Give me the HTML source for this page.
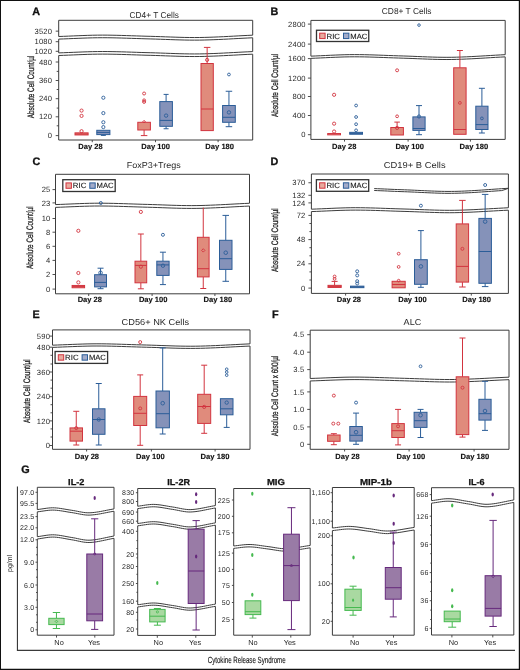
<!DOCTYPE html>
<html><head><meta charset="utf-8"><title>Figure</title>
<style>html,body{margin:0;padding:0;background:#fff;}svg{display:block;will-change:transform;}</style>
</head><body>
<svg width="520" height="670" viewBox="0 0 520 670" text-rendering="geometricPrecision" font-family='"Liberation Sans", sans-serif'>
<rect x="0" y="0" width="520" height="670" fill="#fff"/>
<path d="M58.7 20.3 L252.7 20.3 L252.7 35.18 L247.85 35.4 L243 35.64 L238.15 35.9 L233.3 36.16 L228.45 36.42 L223.6 36.67 L218.75 36.9 L213.9 37.1 L209.05 37.28 L204.2 37.42 L199.35 37.51 L194.5 37.54 L189.65 37.51 L184.8 37.44 L179.95 37.32 L175.1 37.17 L170.25 37 L165.4 36.83 L160.55 36.65 L155.7 36.49 L150.85 36.34 L146 36.22 L141.15 36.07 L136.3 35.91 L131.45 35.75 L126.6 35.59 L121.75 35.44 L116.9 35.31 L112.05 35.21 L107.2 35.14 L102.35 35.12 L97.5 35.15 L92.65 35.23 L87.8 35.37 L82.95 35.54 L78.1 35.73 L73.25 35.93 L68.4 36.13 L63.55 36.33 L58.7 36.5 Z" fill="none" stroke="#3c3c3c" stroke-width="1.0" stroke-linejoin="round"/>
<path d="M58.7 39.1 L63.55 38.93 L68.4 38.73 L73.25 38.53 L78.1 38.33 L82.95 38.14 L87.8 37.97 L92.65 37.83 L97.5 37.75 L102.35 37.72 L107.2 37.74 L112.05 37.81 L116.9 37.91 L121.75 38.04 L126.6 38.19 L131.45 38.35 L136.3 38.51 L141.15 38.67 L146 38.82 L150.85 38.94 L155.7 39.09 L160.55 39.25 L165.4 39.43 L170.25 39.6 L175.1 39.77 L179.95 39.92 L184.8 40.04 L189.65 40.11 L194.5 40.14 L199.35 40.11 L204.2 40.02 L209.05 39.88 L213.9 39.7 L218.75 39.5 L223.6 39.27 L228.45 39.02 L233.3 38.76 L238.15 38.5 L243 38.24 L247.85 38 L252.7 37.78 L252.7 51.58 L247.85 51.8 L243 52.04 L238.15 52.3 L233.3 52.56 L228.45 52.82 L223.6 53.07 L218.75 53.3 L213.9 53.5 L209.05 53.68 L204.2 53.82 L199.35 53.91 L194.5 53.94 L189.65 53.91 L184.8 53.84 L179.95 53.72 L175.1 53.57 L170.25 53.4 L165.4 53.23 L160.55 53.05 L155.7 52.89 L150.85 52.74 L146 52.62 L141.15 52.47 L136.3 52.31 L131.45 52.15 L126.6 51.99 L121.75 51.84 L116.9 51.71 L112.05 51.61 L107.2 51.54 L102.35 51.52 L97.5 51.55 L92.65 51.63 L87.8 51.77 L82.95 51.94 L78.1 52.13 L73.25 52.33 L68.4 52.53 L63.55 52.73 L58.7 52.9 Z" fill="none" stroke="#3c3c3c" stroke-width="1.0" stroke-linejoin="round"/>
<path d="M58.7 55.5 L63.55 55.33 L68.4 55.13 L73.25 54.93 L78.1 54.73 L82.95 54.54 L87.8 54.37 L92.65 54.23 L97.5 54.15 L102.35 54.12 L107.2 54.14 L112.05 54.21 L116.9 54.31 L121.75 54.44 L126.6 54.59 L131.45 54.75 L136.3 54.91 L141.15 55.07 L146 55.22 L150.85 55.34 L155.7 55.49 L160.55 55.65 L165.4 55.83 L170.25 56 L175.1 56.17 L179.95 56.32 L184.8 56.44 L189.65 56.51 L194.5 56.54 L199.35 56.51 L204.2 56.42 L209.05 56.28 L213.9 56.1 L218.75 55.9 L223.6 55.67 L228.45 55.42 L233.3 55.16 L238.15 54.9 L243 54.64 L247.85 54.4 L252.7 54.18 L252.7 140 L58.7 140 Z" fill="none" stroke="#3c3c3c" stroke-width="1.0" stroke-linejoin="round"/>
<path d="M310.9 20.4 L505.2 20.4 L505.2 54.67 L500.34 54.92 L495.49 55.19 L490.63 55.48 L485.77 55.77 L480.91 56.06 L476.06 56.34 L471.2 56.6 L466.34 56.83 L461.48 57.03 L456.62 57.18 L451.77 57.29 L446.91 57.32 L442.05 57.29 L437.19 57.21 L432.34 57.07 L427.48 56.91 L422.62 56.72 L417.76 56.52 L412.91 56.32 L408.05 56.14 L403.19 55.98 L398.33 55.83 L393.48 55.67 L388.62 55.49 L383.76 55.31 L378.9 55.13 L374.05 54.96 L369.19 54.82 L364.33 54.7 L359.47 54.63 L354.62 54.6 L349.76 54.63 L344.9 54.73 L340.04 54.88 L335.19 55.07 L330.33 55.28 L325.47 55.51 L320.61 55.74 L315.76 55.96 L310.9 56.15 Z" fill="none" stroke="#3c3c3c" stroke-width="1.0" stroke-linejoin="round"/>
<path d="M310.9 58.35 L315.76 58.16 L320.61 57.94 L325.47 57.71 L330.33 57.48 L335.19 57.27 L340.04 57.08 L344.9 56.93 L349.76 56.83 L354.62 56.8 L359.47 56.83 L364.33 56.9 L369.19 57.02 L374.05 57.16 L378.9 57.33 L383.76 57.51 L388.62 57.69 L393.48 57.87 L398.33 58.03 L403.19 58.18 L408.05 58.34 L412.91 58.52 L417.76 58.72 L422.62 58.92 L427.48 59.11 L432.34 59.27 L437.19 59.41 L442.05 59.49 L446.91 59.52 L451.77 59.49 L456.62 59.38 L461.48 59.23 L466.34 59.03 L471.2 58.8 L476.06 58.54 L480.91 58.26 L485.77 57.97 L490.63 57.68 L495.49 57.39 L500.34 57.12 L505.2 56.87 L505.2 139.4 L310.9 139.4 Z" fill="none" stroke="#3c3c3c" stroke-width="1.0" stroke-linejoin="round"/>
<path d="M55.5 174.3 L249.5 174.3 L249.5 203.26 L244.65 203.48 L239.8 203.72 L234.95 203.98 L230.1 204.24 L225.25 204.5 L220.4 204.75 L215.55 204.98 L210.7 205.18 L205.85 205.36 L201 205.5 L196.15 205.59 L191.3 205.62 L186.45 205.59 L181.6 205.52 L176.75 205.4 L171.9 205.25 L167.05 205.08 L162.2 204.91 L157.35 204.73 L152.5 204.57 L147.65 204.42 L142.8 204.3 L137.95 204.15 L133.1 203.99 L128.25 203.83 L123.4 203.67 L118.55 203.52 L113.7 203.39 L108.85 203.29 L104 203.22 L99.15 203.2 L94.3 203.23 L89.45 203.31 L84.6 203.45 L79.75 203.62 L74.9 203.81 L70.05 204.01 L65.2 204.21 L60.35 204.41 L55.5 204.58 Z" fill="none" stroke="#3c3c3c" stroke-width="1.0" stroke-linejoin="round"/>
<path d="M55.5 207.38 L60.35 207.21 L65.2 207.01 L70.05 206.81 L74.9 206.61 L79.75 206.42 L84.6 206.25 L89.45 206.11 L94.3 206.03 L99.15 206 L104 206.02 L108.85 206.09 L113.7 206.19 L118.55 206.32 L123.4 206.47 L128.25 206.63 L133.1 206.79 L137.95 206.95 L142.8 207.1 L147.65 207.22 L152.5 207.37 L157.35 207.53 L162.2 207.71 L167.05 207.88 L171.9 208.05 L176.75 208.2 L181.6 208.32 L186.45 208.39 L191.3 208.42 L196.15 208.39 L201 208.3 L205.85 208.16 L210.7 207.98 L215.55 207.78 L220.4 207.55 L225.25 207.3 L230.1 207.04 L234.95 206.78 L239.8 206.52 L244.65 206.28 L249.5 206.06 L249.5 293.8 L55.5 293.8 Z" fill="none" stroke="#3c3c3c" stroke-width="1.0" stroke-linejoin="round"/>
<path d="M311.4 174 L508.4 174 L508.4 207.76 L503.47 208.01 L498.55 208.27 L493.62 208.54 L488.7 208.82 L483.77 209.1 L478.85 209.37 L473.92 209.63 L469 209.85 L464.07 210.04 L459.15 210.19 L454.22 210.29 L449.3 210.32 L444.38 210.29 L439.45 210.21 L434.52 210.08 L429.6 209.92 L424.67 209.74 L419.75 209.55 L414.82 209.36 L409.9 209.18 L404.97 209.03 L400.05 208.89 L395.12 208.73 L390.2 208.56 L385.27 208.38 L380.35 208.21 L375.42 208.05 L370.5 207.91 L365.57 207.8 L360.65 207.73 L355.72 207.7 L350.8 207.73 L345.88 207.82 L340.95 207.97 L336.02 208.15 L331.1 208.36 L326.17 208.58 L321.25 208.8 L316.32 209.01 L311.4 209.19 Z" fill="none" stroke="#3c3c3c" stroke-width="1.0" stroke-linejoin="round"/>
<path d="M311.4 211.59 L316.32 211.41 L321.25 211.2 L326.17 210.98 L331.1 210.76 L336.02 210.55 L340.95 210.37 L345.88 210.22 L350.8 210.13 L355.72 210.1 L360.65 210.13 L365.57 210.2 L370.5 210.31 L375.42 210.45 L380.35 210.61 L385.27 210.78 L390.2 210.96 L395.12 211.13 L400.05 211.29 L404.97 211.43 L409.9 211.58 L414.82 211.76 L419.75 211.95 L424.67 212.14 L429.6 212.32 L434.52 212.48 L439.45 212.61 L444.38 212.69 L449.3 212.72 L454.22 212.69 L459.15 212.59 L464.07 212.44 L469 212.25 L473.92 212.03 L478.85 211.77 L483.77 211.5 L488.7 211.22 L493.62 210.94 L498.55 210.67 L503.47 210.41 L508.4 210.16 L508.4 293.4 L311.4 293.4 Z" fill="none" stroke="#3c3c3c" stroke-width="1.0" stroke-linejoin="round"/>
<polyline points="374.2,188.58 377.56,188.71 380.91,188.85 384.26,188.99 387.62,189.14 390.97,189.29 394.33,189.43 397.69,189.57 401.04,189.7 404.39,189.81 407.75,189.93 411.1,190.07 414.46,190.22 417.81,190.38 421.17,190.54 424.52,190.7 427.88,190.86 431.23,191 434.59,191.13 437.94,191.25 441.3,191.33 444.65,191.4 448.01,191.43 451.37,191.42 454.72,191.38 458.07,191.3 461.43,191.19 464.78,191.05 468.14,190.89 471.5,190.71 474.85,190.51 478.2,190.3 481.56,190.08 484.91,189.85 488.27,189.61 491.62,189.38 494.98,189.14 498.33,188.91 501.69,188.69 505.04,188.48 508.4,188.28" fill="none" stroke="#3c3c3c" stroke-width="1"/>
<polyline points="374.2,190.48 377.56,190.61 380.91,190.75 384.26,190.89 387.62,191.04 390.97,191.19 394.33,191.33 397.69,191.47 401.04,191.6 404.39,191.71 407.75,191.83 411.1,191.97 414.46,192.12 417.81,192.28 421.17,192.44 424.52,192.6 427.88,192.76 431.23,192.9 434.59,193.03 437.94,193.15 441.3,193.23 444.65,193.3 448.01,193.33 451.37,193.32 454.72,193.28 458.07,193.2 461.43,193.09 464.78,192.95 468.14,192.79 471.5,192.61 474.85,192.41 478.2,192.2 481.56,191.98 484.91,191.75 488.27,191.51 491.62,191.28 494.98,191.04 498.33,190.81 501.69,190.59 505.04,189.54 508.4,188.28" fill="none" stroke="#3c3c3c" stroke-width="1"/>
<path d="M52.5 329.9 L250 329.9 L250 343.86 L245.06 344.08 L240.12 344.32 L235.19 344.58 L230.25 344.84 L225.31 345.1 L220.38 345.35 L215.44 345.58 L210.5 345.78 L205.56 345.96 L200.62 346.1 L195.69 346.19 L190.75 346.22 L185.81 346.19 L180.88 346.12 L175.94 346 L171 345.85 L166.06 345.68 L161.12 345.51 L156.19 345.33 L151.25 345.17 L146.31 345.02 L141.38 344.9 L136.44 344.75 L131.5 344.59 L126.56 344.43 L121.62 344.27 L116.69 344.12 L111.75 343.99 L106.81 343.89 L101.88 343.82 L96.94 343.8 L92 343.83 L87.06 343.91 L82.12 344.05 L77.19 344.22 L72.25 344.41 L67.31 344.61 L62.38 344.81 L57.44 345.01 L52.5 345.18 Z" fill="none" stroke="#3c3c3c" stroke-width="1.0" stroke-linejoin="round"/>
<path d="M52.5 347.38 L57.44 347.21 L62.38 347.01 L67.31 346.81 L72.25 346.61 L77.19 346.42 L82.12 346.25 L87.06 346.11 L92 346.03 L96.94 346 L101.88 346.02 L106.81 346.09 L111.75 346.19 L116.69 346.32 L121.62 346.47 L126.56 346.63 L131.5 346.79 L136.44 346.95 L141.38 347.1 L146.31 347.22 L151.25 347.37 L156.19 347.53 L161.12 347.71 L166.06 347.88 L171 348.05 L175.94 348.2 L180.88 348.32 L185.81 348.39 L190.75 348.42 L195.69 348.39 L200.62 348.3 L205.56 348.16 L210.5 347.98 L215.44 347.78 L220.38 347.55 L225.31 347.3 L230.25 347.04 L235.19 346.78 L240.12 346.52 L245.06 346.28 L250 346.06 L250 449.3 L52.5 449.3 Z" fill="none" stroke="#3c3c3c" stroke-width="1.0" stroke-linejoin="round"/>
<path d="M310.2 330.2 L509 330.2 L509 377.16 L504.03 377.38 L499.06 377.62 L494.09 377.88 L489.12 378.14 L484.15 378.4 L479.18 378.65 L474.21 378.88 L469.24 379.08 L464.27 379.26 L459.3 379.4 L454.33 379.49 L449.36 379.52 L444.39 379.49 L439.42 379.42 L434.45 379.3 L429.48 379.15 L424.51 378.98 L419.54 378.81 L414.57 378.63 L409.6 378.47 L404.63 378.32 L399.66 378.2 L394.69 378.05 L389.72 377.89 L384.75 377.73 L379.78 377.57 L374.81 377.42 L369.84 377.29 L364.87 377.19 L359.9 377.12 L354.93 377.1 L349.96 377.13 L344.99 377.21 L340.02 377.35 L335.05 377.52 L330.08 377.71 L325.11 377.91 L320.14 378.11 L315.17 378.31 L310.2 378.48 Z" fill="none" stroke="#3c3c3c" stroke-width="1.0" stroke-linejoin="round"/>
<path d="M310.2 380.98 L315.17 380.81 L320.14 380.61 L325.11 380.41 L330.08 380.21 L335.05 380.02 L340.02 379.85 L344.99 379.71 L349.96 379.63 L354.93 379.6 L359.9 379.62 L364.87 379.69 L369.84 379.79 L374.81 379.92 L379.78 380.07 L384.75 380.23 L389.72 380.39 L394.69 380.55 L399.66 380.7 L404.63 380.82 L409.6 380.97 L414.57 381.13 L419.54 381.31 L424.51 381.48 L429.48 381.65 L434.45 381.8 L439.42 381.92 L444.39 381.99 L449.36 382.02 L454.33 381.99 L459.3 381.9 L464.27 381.76 L469.24 381.58 L474.21 381.38 L479.18 381.15 L484.15 380.9 L489.12 380.64 L494.09 380.38 L499.06 380.12 L504.03 379.88 L509 379.66 L509 449.3 L310.2 449.3 Z" fill="none" stroke="#3c3c3c" stroke-width="1.0" stroke-linejoin="round"/>
<path d="M37.3 487.3 L114 487.3 L114 508.93 L112.08 509.25 L110.16 509.59 L108.25 509.96 L106.33 510.34 L104.41 510.72 L102.5 511.1 L100.58 511.46 L98.66 511.8 L96.74 512.1 L94.82 512.36 L92.91 512.57 L90.99 512.73 L89.07 512.81 L87.16 512.78 L85.24 512.63 L83.32 512.38 L81.4 512.07 L79.48 511.71 L77.57 511.33 L75.65 510.95 L73.73 510.6 L71.81 510.3 L69.9 510.01 L67.98 509.7 L66.06 509.37 L64.14 509.04 L62.23 508.72 L60.31 508.43 L58.39 508.17 L56.47 507.97 L54.56 507.84 L52.64 507.79 L50.72 507.85 L48.8 507.99 L46.89 508.21 L44.97 508.47 L43.05 508.75 L41.13 509.04 L39.22 509.32 L37.3 509.55 Z" fill="none" stroke="#3c3c3c" stroke-width="1.0" stroke-linejoin="round"/>
<path d="M37.3 511.85 L39.22 511.62 L41.13 511.34 L43.05 511.05 L44.97 510.77 L46.89 510.51 L48.8 510.29 L50.72 510.15 L52.64 510.09 L54.56 510.14 L56.47 510.27 L58.39 510.47 L60.31 510.73 L62.23 511.02 L64.14 511.34 L66.06 511.67 L67.98 512 L69.9 512.31 L71.81 512.6 L73.73 512.9 L75.65 513.25 L77.57 513.63 L79.48 514.01 L81.4 514.37 L83.32 514.68 L85.24 514.93 L87.16 515.08 L89.07 515.11 L90.99 515.03 L92.91 514.87 L94.82 514.66 L96.74 514.4 L98.66 514.1 L100.58 513.76 L102.5 513.4 L104.41 513.02 L106.33 512.64 L108.25 512.26 L110.16 511.89 L112.08 511.55 L114 511.23 L114 536.01 L112.08 536.36 L110.16 536.74 L108.25 537.14 L106.33 537.55 L104.41 537.96 L102.5 538.36 L100.58 538.75 L98.66 539.12 L96.74 539.45 L94.82 539.73 L92.91 539.96 L90.99 540.12 L89.07 540.21 L87.16 540.17 L85.24 540.01 L83.32 539.75 L81.4 539.41 L79.48 539.02 L77.57 538.61 L75.65 538.2 L73.73 537.82 L71.81 537.5 L69.9 537.19 L67.98 536.85 L66.06 536.5 L64.14 536.14 L62.23 535.79 L60.31 535.48 L58.39 535.2 L56.47 534.99 L54.56 534.84 L52.64 534.79 L50.72 534.85 L48.8 535.01 L46.89 535.24 L44.97 535.52 L43.05 535.83 L41.13 536.14 L39.22 536.44 L37.3 536.69 Z" fill="none" stroke="#3c3c3c" stroke-width="1.0" stroke-linejoin="round"/>
<path d="M37.3 538.99 L39.22 538.74 L41.13 538.44 L43.05 538.13 L44.97 537.82 L46.89 537.54 L48.8 537.31 L50.72 537.15 L52.64 537.09 L54.56 537.14 L56.47 537.29 L58.39 537.5 L60.31 537.78 L62.23 538.09 L64.14 538.44 L66.06 538.8 L67.98 539.15 L69.9 539.49 L71.81 539.8 L73.73 540.12 L75.65 540.5 L77.57 540.91 L79.48 541.32 L81.4 541.71 L83.32 542.05 L85.24 542.31 L87.16 542.47 L89.07 542.51 L90.99 542.42 L92.91 542.26 L94.82 542.03 L96.74 541.75 L98.66 541.42 L100.58 541.05 L102.5 540.66 L104.41 540.26 L106.33 539.85 L108.25 539.44 L110.16 539.04 L112.08 538.66 L114 538.31 L114 635.2 L37.3 635.2 Z" fill="none" stroke="#3c3c3c" stroke-width="1.0" stroke-linejoin="round"/>
<path d="M137.7 488.5 L215.4 488.5 L215.4 505.57 L213.46 505.9 L211.52 506.27 L209.57 506.65 L207.63 507.04 L205.69 507.44 L203.75 507.83 L201.8 508.21 L199.86 508.56 L197.92 508.87 L195.97 509.15 L194.03 509.37 L192.09 509.52 L190.15 509.61 L188.2 509.58 L186.26 509.42 L184.32 509.16 L182.38 508.84 L180.44 508.46 L178.49 508.07 L176.55 507.68 L174.61 507.31 L172.66 507 L170.72 506.7 L168.78 506.38 L166.84 506.03 L164.89 505.69 L162.95 505.36 L161.01 505.05 L159.07 504.79 L157.12 504.58 L155.18 504.44 L153.24 504.39 L151.3 504.45 L149.35 504.6 L147.41 504.82 L145.47 505.09 L143.53 505.39 L141.58 505.69 L139.64 505.98 L137.7 506.22 Z" fill="none" stroke="#3c3c3c" stroke-width="1.0" stroke-linejoin="round"/>
<path d="M137.7 508.62 L139.64 508.38 L141.58 508.09 L143.53 507.79 L145.47 507.49 L147.41 507.22 L149.35 507 L151.3 506.85 L153.24 506.79 L155.18 506.84 L157.12 506.98 L159.07 507.19 L161.01 507.45 L162.95 507.76 L164.89 508.09 L166.84 508.43 L168.78 508.78 L170.72 509.1 L172.66 509.4 L174.61 509.71 L176.55 510.08 L178.49 510.47 L180.44 510.86 L182.38 511.24 L184.32 511.56 L186.26 511.82 L188.2 511.98 L190.15 512.01 L192.09 511.92 L194.03 511.77 L195.97 511.55 L197.92 511.27 L199.86 510.96 L201.8 510.61 L203.75 510.23 L205.69 509.84 L207.63 509.44 L209.57 509.05 L211.52 508.67 L213.46 508.3 L215.4 507.97 L215.4 522.87 L213.46 523.2 L211.52 523.57 L209.57 523.95 L207.63 524.34 L205.69 524.74 L203.75 525.13 L201.8 525.51 L199.86 525.86 L197.92 526.17 L195.97 526.45 L194.03 526.67 L192.09 526.82 L190.15 526.91 L188.2 526.88 L186.26 526.72 L184.32 526.46 L182.38 526.14 L180.44 525.76 L178.49 525.37 L176.55 524.98 L174.61 524.61 L172.66 524.3 L170.72 524 L168.78 523.68 L166.84 523.33 L164.89 522.99 L162.95 522.66 L161.01 522.35 L159.07 522.09 L157.12 521.88 L155.18 521.74 L153.24 521.69 L151.3 521.75 L149.35 521.9 L147.41 522.12 L145.47 522.39 L143.53 522.69 L141.58 522.99 L139.64 523.28 L137.7 523.52 Z" fill="none" stroke="#3c3c3c" stroke-width="1.0" stroke-linejoin="round"/>
<path d="M137.7 525.82 L139.64 525.58 L141.58 525.29 L143.53 524.99 L145.47 524.69 L147.41 524.42 L149.35 524.2 L151.3 524.05 L153.24 523.99 L155.18 524.04 L157.12 524.18 L159.07 524.39 L161.01 524.65 L162.95 524.96 L164.89 525.29 L166.84 525.63 L168.78 525.98 L170.72 526.3 L172.66 526.6 L174.61 526.91 L176.55 527.28 L178.49 527.67 L180.44 528.06 L182.38 528.44 L184.32 528.76 L186.26 529.02 L188.2 529.18 L190.15 529.21 L192.09 529.12 L194.03 528.97 L195.97 528.75 L197.92 528.47 L199.86 528.16 L201.8 527.81 L203.75 527.43 L205.69 527.04 L207.63 526.64 L209.57 526.25 L211.52 525.87 L213.46 525.5 L215.4 525.17 L215.4 604.12 L213.46 604.45 L211.52 604.79 L209.57 605.16 L207.63 605.54 L205.69 605.92 L203.75 606.3 L201.8 606.66 L199.86 607 L197.92 607.3 L195.97 607.56 L194.03 607.77 L192.09 607.93 L190.15 608.01 L188.2 607.98 L186.26 607.83 L184.32 607.58 L182.38 607.27 L180.44 606.91 L178.49 606.53 L176.55 606.15 L174.61 605.8 L172.66 605.5 L170.72 605.21 L168.78 604.9 L166.84 604.57 L164.89 604.24 L162.95 603.92 L161.01 603.63 L159.07 603.37 L157.12 603.17 L155.18 603.04 L153.24 602.99 L151.3 603.05 L149.35 603.19 L147.41 603.41 L145.47 603.67 L143.53 603.95 L141.58 604.24 L139.64 604.52 L137.7 604.75 Z" fill="none" stroke="#3c3c3c" stroke-width="1.0" stroke-linejoin="round"/>
<path d="M137.7 606.95 L139.64 606.72 L141.58 606.44 L143.53 606.15 L145.47 605.87 L147.41 605.61 L149.35 605.39 L151.3 605.25 L153.24 605.19 L155.18 605.24 L157.12 605.37 L159.07 605.57 L161.01 605.83 L162.95 606.12 L164.89 606.44 L166.84 606.77 L168.78 607.1 L170.72 607.41 L172.66 607.7 L174.61 608 L176.55 608.35 L178.49 608.73 L180.44 609.11 L182.38 609.47 L184.32 609.78 L186.26 610.03 L188.2 610.18 L190.15 610.21 L192.09 610.13 L194.03 609.97 L195.97 609.76 L197.92 609.5 L199.86 609.2 L201.8 608.86 L203.75 608.5 L205.69 608.12 L207.63 607.74 L209.57 607.36 L211.52 606.99 L213.46 606.65 L215.4 606.33 L215.4 635.4 L137.7 635.4 Z" fill="none" stroke="#3c3c3c" stroke-width="1.0" stroke-linejoin="round"/>
<path d="M233.7 488.5 L310.2 488.5 L310.2 545.45 L308.29 545.71 L306.38 546.01 L304.46 546.32 L302.55 546.64 L300.64 546.96 L298.73 547.27 L296.81 547.58 L294.9 547.86 L292.99 548.11 L291.07 548.33 L289.16 548.51 L287.25 548.64 L285.34 548.71 L283.43 548.68 L281.51 548.55 L279.6 548.35 L277.69 548.08 L275.77 547.78 L273.86 547.46 L271.95 547.15 L270.04 546.85 L268.12 546.6 L266.21 546.36 L264.3 546.1 L262.39 545.82 L260.47 545.54 L258.56 545.27 L256.65 545.03 L254.74 544.81 L252.82 544.64 L250.91 544.53 L249 544.49 L247.09 544.54 L245.17 544.66 L243.26 544.84 L241.35 545.06 L239.44 545.3 L237.52 545.54 L235.61 545.77 L233.7 545.97 Z" fill="none" stroke="#3c3c3c" stroke-width="1.0" stroke-linejoin="round"/>
<path d="M233.7 548.37 L235.61 548.17 L237.52 547.94 L239.44 547.7 L241.35 547.46 L243.26 547.24 L245.17 547.06 L247.09 546.94 L249 546.89 L250.91 546.93 L252.82 547.04 L254.74 547.21 L256.65 547.43 L258.56 547.67 L260.47 547.94 L262.39 548.22 L264.3 548.5 L266.21 548.76 L268.12 549 L270.04 549.25 L271.95 549.55 L273.86 549.86 L275.77 550.18 L277.69 550.48 L279.6 550.75 L281.51 550.95 L283.43 551.08 L285.34 551.11 L287.25 551.04 L289.16 550.91 L291.07 550.73 L292.99 550.51 L294.9 550.26 L296.81 549.98 L298.73 549.67 L300.64 549.36 L302.55 549.04 L304.46 548.72 L306.38 548.41 L308.29 548.11 L310.2 547.85 L310.2 635.2 L233.7 635.2 Z" fill="none" stroke="#3c3c3c" stroke-width="1.0" stroke-linejoin="round"/>
<path d="M332.4 487.5 L414.2 487.5 L414.2 527.44 L412.15 527.73 L410.11 528.05 L408.06 528.39 L406.02 528.74 L403.98 529.09 L401.93 529.44 L399.88 529.77 L397.84 530.08 L395.79 530.36 L393.75 530.6 L391.7 530.79 L389.66 530.93 L387.62 531.01 L385.57 530.98 L383.52 530.84 L381.48 530.61 L379.44 530.33 L377.39 530 L375.34 529.65 L373.3 529.3 L371.25 528.98 L369.21 528.7 L367.16 528.44 L365.12 528.15 L363.07 527.84 L361.03 527.54 L358.98 527.25 L356.94 526.98 L354.89 526.74 L352.85 526.56 L350.8 526.44 L348.76 526.39 L346.71 526.44 L344.67 526.58 L342.62 526.77 L340.58 527.01 L338.53 527.28 L336.49 527.54 L334.44 527.79 L332.4 528.01 Z" fill="none" stroke="#3c3c3c" stroke-width="1.0" stroke-linejoin="round"/>
<path d="M332.4 530.61 L334.44 530.39 L336.49 530.14 L338.53 529.88 L340.58 529.61 L342.62 529.37 L344.67 529.18 L346.71 529.04 L348.76 528.99 L350.8 529.04 L352.85 529.16 L354.89 529.34 L356.94 529.58 L358.98 529.85 L361.03 530.14 L363.07 530.44 L365.12 530.75 L367.16 531.04 L369.21 531.3 L371.25 531.58 L373.3 531.9 L375.34 532.25 L377.39 532.6 L379.44 532.93 L381.48 533.21 L383.52 533.44 L385.57 533.58 L387.62 533.61 L389.66 533.53 L391.7 533.39 L393.75 533.2 L395.79 532.96 L397.84 532.68 L399.88 532.37 L401.93 532.04 L403.98 531.69 L406.02 531.34 L408.06 530.99 L410.11 530.65 L412.15 530.33 L414.2 530.04 L414.2 635.2 L332.4 635.2 Z" fill="none" stroke="#3c3c3c" stroke-width="1.0" stroke-linejoin="round"/>
<path d="M431.5 487.7 L513.8 487.7 L513.8 499.96 L511.74 500.32 L509.68 500.71 L507.63 501.12 L505.57 501.55 L503.51 501.98 L501.45 502.4 L499.4 502.8 L497.34 503.18 L495.28 503.52 L493.22 503.81 L491.17 504.05 L489.11 504.22 L487.05 504.31 L484.99 504.27 L482.94 504.1 L480.88 503.83 L478.82 503.48 L476.76 503.08 L474.71 502.65 L472.65 502.23 L470.59 501.84 L468.53 501.5 L466.48 501.18 L464.42 500.83 L462.36 500.46 L460.31 500.09 L458.25 499.73 L456.19 499.4 L454.13 499.12 L452.07 498.89 L450.02 498.75 L447.96 498.69 L445.9 498.75 L443.84 498.92 L441.79 499.16 L439.73 499.45 L437.67 499.77 L435.62 500.09 L433.56 500.4 L431.5 500.66 Z" fill="none" stroke="#3c3c3c" stroke-width="1.0" stroke-linejoin="round"/>
<path d="M431.5 503.16 L433.56 502.9 L435.62 502.59 L437.67 502.27 L439.73 501.95 L441.79 501.66 L443.84 501.42 L445.9 501.25 L447.96 501.19 L450.02 501.25 L452.07 501.39 L454.13 501.62 L456.19 501.9 L458.25 502.23 L460.31 502.59 L462.36 502.96 L464.42 503.33 L466.48 503.68 L468.53 504 L470.59 504.34 L472.65 504.73 L474.71 505.15 L476.76 505.58 L478.82 505.98 L480.88 506.33 L482.94 506.6 L484.99 506.77 L487.05 506.81 L489.11 506.72 L491.17 506.55 L493.22 506.31 L495.28 506.02 L497.34 505.68 L499.4 505.3 L501.45 504.9 L503.51 504.48 L505.57 504.05 L507.63 503.62 L509.68 503.21 L511.74 502.82 L513.8 502.46 L513.8 635 L431.5 635 Z" fill="none" stroke="#3c3c3c" stroke-width="1.0" stroke-linejoin="round"/>
<text x="32.2" y="15.2" font-size="10.8" font-weight="bold" text-anchor="start" fill="#111" stroke="#111" stroke-width="0.3">A</text>
<text x="129.5" y="17.6" font-size="8.6" font-weight="normal" text-anchor="start" fill="#2a2a2a" textLength="49.4" lengthAdjust="spacingAndGlyphs">CD4+ T Cells</text>
<line x1="55.7" y1="31.15" x2="58.7" y2="31.15" stroke="#3c3c3c" stroke-width="0.9"/>
<line x1="55.7" y1="41.7" x2="58.7" y2="41.7" stroke="#3c3c3c" stroke-width="0.9"/>
<line x1="55.7" y1="51.3" x2="58.7" y2="51.3" stroke="#3c3c3c" stroke-width="0.9"/>
<line x1="55.7" y1="62" x2="58.7" y2="62" stroke="#3c3c3c" stroke-width="0.9"/>
<line x1="55.7" y1="80.5" x2="58.7" y2="80.5" stroke="#3c3c3c" stroke-width="0.9"/>
<line x1="55.7" y1="98.7" x2="58.7" y2="98.7" stroke="#3c3c3c" stroke-width="0.9"/>
<line x1="55.7" y1="116.8" x2="58.7" y2="116.8" stroke="#3c3c3c" stroke-width="0.9"/>
<line x1="55.7" y1="135.6" x2="58.7" y2="135.6" stroke="#3c3c3c" stroke-width="0.9"/>
<line x1="56.7" y1="71.4" x2="58.7" y2="71.4" stroke="#3c3c3c" stroke-width="0.9"/>
<line x1="56.7" y1="89.5" x2="58.7" y2="89.5" stroke="#3c3c3c" stroke-width="0.9"/>
<line x1="56.7" y1="108.1" x2="58.7" y2="108.1" stroke="#3c3c3c" stroke-width="0.9"/>
<line x1="56.7" y1="125.8" x2="58.7" y2="125.8" stroke="#3c3c3c" stroke-width="0.9"/>
<text x="52.2" y="33.75" font-size="7.6" fill="#2a2a2a" text-anchor="end" letter-spacing="0.2">3520</text>
<text x="52.2" y="44.3" font-size="7.6" fill="#2a2a2a" text-anchor="end" letter-spacing="0.2">1080</text>
<text x="52.2" y="53.9" font-size="7.6" fill="#2a2a2a" text-anchor="end" letter-spacing="0.2">1020</text>
<text x="52.2" y="64.6" font-size="7.6" fill="#2a2a2a" text-anchor="end" letter-spacing="0.2">480</text>
<text x="52.2" y="83.1" font-size="7.6" fill="#2a2a2a" text-anchor="end" letter-spacing="0.2">360</text>
<text x="52.2" y="101.3" font-size="7.6" fill="#2a2a2a" text-anchor="end" letter-spacing="0.2">240</text>
<text x="52.2" y="119.4" font-size="7.6" fill="#2a2a2a" text-anchor="end" letter-spacing="0.2">120</text>
<text x="52.2" y="138.2" font-size="7.6" fill="#2a2a2a" text-anchor="end" letter-spacing="0.2">0</text>
<text transform="translate(33.95 118.3) rotate(-90)" font-size="9.3" fill="#1a1a1a" stroke="#1a1a1a" stroke-width="0.25" textLength="62.7" lengthAdjust="spacingAndGlyphs">Absolute Cell Count/µl</text>
<line x1="92.25" y1="140" x2="92.25" y2="142.2" stroke="#3c3c3c" stroke-width="0.9"/>
<line x1="155.5" y1="140" x2="155.5" y2="142.2" stroke="#3c3c3c" stroke-width="0.9"/>
<line x1="218.1" y1="140" x2="218.1" y2="142.2" stroke="#3c3c3c" stroke-width="0.9"/>
<text x="90.5" y="149.2" font-size="7.6" font-weight="bold" text-anchor="middle" fill="#111" textLength="24.3" lengthAdjust="spacingAndGlyphs" stroke="#111" stroke-width="0.12">Day 28</text>
<text x="155.6" y="149.2" font-size="7.6" font-weight="bold" text-anchor="middle" fill="#111" textLength="28.6" lengthAdjust="spacingAndGlyphs" stroke="#111" stroke-width="0.12">Day 100</text>
<text x="219.7" y="149.2" font-size="7.6" font-weight="bold" text-anchor="middle" fill="#111" textLength="28.8" lengthAdjust="spacingAndGlyphs" stroke="#111" stroke-width="0.12">Day 180</text>
<rect x="75" y="132.85" width="13.1" height="2.1" fill="#e08b7c" stroke="#d2343f" stroke-width="1.0"/>
<line x1="75" y1="134" x2="88.1" y2="134" stroke="#d2343f" stroke-width="1.0"/>
<circle cx="81.55" cy="110.6" r="1.6" fill="none" stroke="#d2343f" stroke-width="0.9"/>
<circle cx="81.55" cy="115.9" r="1.6" fill="none" stroke="#d2343f" stroke-width="0.9"/>
<circle cx="81.55" cy="131.2" r="1.6" fill="none" stroke="#d2343f" stroke-width="0.9"/>
<line x1="103.35" y1="134.6" x2="103.35" y2="135.4" stroke="#2b5d98" stroke-width="1.0"/>
<line x1="100.85" y1="135.4" x2="105.85" y2="135.4" stroke="#2b5d98" stroke-width="1.0"/>
<rect x="96.8" y="130.3" width="13.1" height="4.3" fill="#8592b9" stroke="#2b5d98" stroke-width="1.0"/>
<line x1="96.8" y1="132.4" x2="109.9" y2="132.4" stroke="#2b5d98" stroke-width="1.0"/>
<circle cx="103.35" cy="97.75" r="1.6" fill="none" stroke="#2b5d98" stroke-width="0.9"/>
<circle cx="103.35" cy="113.1" r="1.6" fill="none" stroke="#2b5d98" stroke-width="0.9"/>
<circle cx="103.35" cy="122.25" r="1.6" fill="none" stroke="#2b5d98" stroke-width="0.9"/>
<circle cx="103.35" cy="127.1" r="1.6" fill="none" stroke="#2b5d98" stroke-width="0.9"/>
<line x1="144.1" y1="121.4" x2="144.1" y2="122.3" stroke="#d2343f" stroke-width="1.0"/>
<line x1="144.1" y1="130" x2="144.1" y2="135.6" stroke="#d2343f" stroke-width="1.0"/>
<line x1="140.85" y1="135.6" x2="147.35" y2="135.6" stroke="#d2343f" stroke-width="1.0"/>
<rect x="137.8" y="122.3" width="12.6" height="7.7" fill="#e08b7c" stroke="#d2343f" stroke-width="1.0"/>
<path d="M144.1 120.3 L145.4 121.6 L144.1 122.9 L142.8 121.6 Z" fill="none" stroke="#d2343f" stroke-width="0.9"/>
<circle cx="144.1" cy="93.5" r="1.5" fill="none" stroke="#d2343f" stroke-width="0.9"/>
<circle cx="144.1" cy="100.4" r="1.5" fill="none" stroke="#d2343f" stroke-width="0.9"/>
<circle cx="144.1" cy="101.9" r="1.5" fill="none" stroke="#d2343f" stroke-width="0.9"/>
<line x1="166.1" y1="94.4" x2="166.1" y2="101.6" stroke="#2b5d98" stroke-width="1.0"/>
<line x1="163.6" y1="94.4" x2="168.6" y2="94.4" stroke="#2b5d98" stroke-width="1.0"/>
<line x1="166.1" y1="126.3" x2="166.1" y2="128.75" stroke="#2b5d98" stroke-width="1.0"/>
<line x1="163.6" y1="128.75" x2="168.6" y2="128.75" stroke="#2b5d98" stroke-width="1.0"/>
<rect x="159.8" y="101.6" width="12.6" height="24.7" fill="#8592b9" stroke="#2b5d98" stroke-width="1.0"/>
<line x1="159.8" y1="120.4" x2="172.4" y2="120.4" stroke="#2b5d98" stroke-width="1.0"/>
<circle cx="166.1" cy="115.6" r="1.7" fill="none" stroke="#2b5d98" stroke-width="0.9"/>
<line x1="207.15" y1="47.4" x2="207.15" y2="63.5" stroke="#d2343f" stroke-width="1.0"/>
<line x1="203.9" y1="47.4" x2="210.4" y2="47.4" stroke="#d2343f" stroke-width="1.0"/>
<rect x="201" y="63.5" width="12.3" height="67.1" fill="#e08b7c" stroke="#d2343f" stroke-width="1.0"/>
<line x1="201" y1="109" x2="213.3" y2="109" stroke="#d2343f" stroke-width="1.0"/>
<circle cx="207.15" cy="59.9" r="1.6" fill="none" stroke="#d2343f" stroke-width="0.9"/>
<line x1="228.95" y1="91.25" x2="228.95" y2="105.5" stroke="#2b5d98" stroke-width="1.0"/>
<line x1="225.7" y1="91.25" x2="232.2" y2="91.25" stroke="#2b5d98" stroke-width="1.0"/>
<line x1="228.95" y1="122.3" x2="228.95" y2="126.7" stroke="#2b5d98" stroke-width="1.0"/>
<line x1="225.7" y1="126.7" x2="232.2" y2="126.7" stroke="#2b5d98" stroke-width="1.0"/>
<rect x="222.6" y="105.5" width="12.7" height="16.8" fill="#8592b9" stroke="#2b5d98" stroke-width="1.0"/>
<line x1="222.6" y1="117.3" x2="235.3" y2="117.3" stroke="#2b5d98" stroke-width="1.0"/>
<circle cx="228.95" cy="112.4" r="1.7" fill="none" stroke="#2b5d98" stroke-width="0.9"/>
<circle cx="228.95" cy="74.5" r="1.4" fill="none" stroke="#2b5d98" stroke-width="0.9"/>
<text x="270.4" y="15.2" font-size="10.8" font-weight="bold" text-anchor="start" fill="#111" stroke="#111" stroke-width="0.3">B</text>
<text x="381.8" y="13.8" font-size="8.6" font-weight="normal" text-anchor="start" fill="#2a2a2a" textLength="49.7" lengthAdjust="spacingAndGlyphs">CD8+ T Cells</text>
<rect x="327.7" y="133.55" width="12.8" height="1.3" fill="#e08b7c" stroke="#d2343f" stroke-width="1.0"/>
<circle cx="334.1" cy="94.8" r="1.6" fill="none" stroke="#d2343f" stroke-width="0.9"/>
<circle cx="334.1" cy="123.65" r="1.6" fill="none" stroke="#d2343f" stroke-width="0.9"/>
<circle cx="334.1" cy="131.5" r="1.6" fill="none" stroke="#d2343f" stroke-width="0.9"/>
<rect x="349.7" y="132.35" width="12.8" height="1.9" fill="#8592b9" stroke="#2b5d98" stroke-width="1.0"/>
<line x1="349.7" y1="133.4" x2="362.5" y2="133.4" stroke="#2b5d98" stroke-width="1.0"/>
<circle cx="356.1" cy="105.5" r="1.4" fill="none" stroke="#2b5d98" stroke-width="0.9"/>
<circle cx="356.1" cy="117" r="1.4" fill="none" stroke="#2b5d98" stroke-width="0.9"/>
<circle cx="356.1" cy="124.2" r="1.4" fill="none" stroke="#2b5d98" stroke-width="0.9"/>
<circle cx="356.1" cy="130.3" r="1.4" fill="none" stroke="#2b5d98" stroke-width="0.9"/>
<line x1="397.1" y1="122.1" x2="397.1" y2="127.5" stroke="#d2343f" stroke-width="1.0"/>
<line x1="394.35" y1="122.1" x2="399.85" y2="122.1" stroke="#d2343f" stroke-width="1.0"/>
<rect x="390.8" y="127.5" width="12.6" height="7.5" fill="#e08b7c" stroke="#d2343f" stroke-width="1.0"/>
<circle cx="397.1" cy="127.9" r="1.6" fill="none" stroke="#d2343f" stroke-width="0.9"/>
<circle cx="397.1" cy="116.3" r="1.4" fill="none" stroke="#d2343f" stroke-width="0.9"/>
<circle cx="397.1" cy="70.3" r="1.5" fill="none" stroke="#d2343f" stroke-width="0.9"/>
<line x1="419" y1="105.6" x2="419" y2="116.9" stroke="#2b5d98" stroke-width="1.0"/>
<line x1="416" y1="105.6" x2="422" y2="105.6" stroke="#2b5d98" stroke-width="1.0"/>
<line x1="419" y1="130.4" x2="419" y2="134.7" stroke="#2b5d98" stroke-width="1.0"/>
<line x1="416" y1="134.7" x2="422" y2="134.7" stroke="#2b5d98" stroke-width="1.0"/>
<rect x="412.9" y="116.9" width="12.2" height="13.5" fill="#8592b9" stroke="#2b5d98" stroke-width="1.0"/>
<line x1="412.9" y1="128.5" x2="425.1" y2="128.5" stroke="#2b5d98" stroke-width="1.0"/>
<circle cx="419" cy="116.5" r="1.6" fill="none" stroke="#2b5d98" stroke-width="0.9"/>
<circle cx="419" cy="25.1" r="1.3" fill="none" stroke="#2b5d98" stroke-width="0.9"/>
<line x1="459.9" y1="50.5" x2="459.9" y2="67.8" stroke="#d2343f" stroke-width="1.0"/>
<line x1="456.9" y1="50.5" x2="462.9" y2="50.5" stroke="#d2343f" stroke-width="1.0"/>
<rect x="453.7" y="67.8" width="12.4" height="66.5" fill="#e08b7c" stroke="#d2343f" stroke-width="1.0"/>
<line x1="453.7" y1="129.5" x2="466.1" y2="129.5" stroke="#d2343f" stroke-width="1.0"/>
<circle cx="459.9" cy="102.9" r="1.4" fill="none" stroke="#d2343f" stroke-width="0.9"/>
<line x1="481.9" y1="88.3" x2="481.9" y2="106.2" stroke="#2b5d98" stroke-width="1.0"/>
<line x1="478.9" y1="88.3" x2="484.9" y2="88.3" stroke="#2b5d98" stroke-width="1.0"/>
<line x1="481.9" y1="129.5" x2="481.9" y2="133" stroke="#2b5d98" stroke-width="1.0"/>
<line x1="478.9" y1="133" x2="484.9" y2="133" stroke="#2b5d98" stroke-width="1.0"/>
<rect x="475.8" y="106.2" width="12.2" height="23.3" fill="#8592b9" stroke="#2b5d98" stroke-width="1.0"/>
<line x1="475.8" y1="124.6" x2="488" y2="124.6" stroke="#2b5d98" stroke-width="1.0"/>
<circle cx="481.9" cy="118.4" r="1.4" fill="none" stroke="#2b5d98" stroke-width="0.9"/>
<line x1="307.9" y1="24.1" x2="310.9" y2="24.1" stroke="#3c3c3c" stroke-width="0.9"/>
<line x1="307.9" y1="44.1" x2="310.9" y2="44.1" stroke="#3c3c3c" stroke-width="0.9"/>
<line x1="307.9" y1="58.6" x2="310.9" y2="58.6" stroke="#3c3c3c" stroke-width="0.9"/>
<line x1="307.9" y1="78.1" x2="310.9" y2="78.1" stroke="#3c3c3c" stroke-width="0.9"/>
<line x1="307.9" y1="96.5" x2="310.9" y2="96.5" stroke="#3c3c3c" stroke-width="0.9"/>
<line x1="307.9" y1="115.5" x2="310.9" y2="115.5" stroke="#3c3c3c" stroke-width="0.9"/>
<line x1="307.9" y1="134.7" x2="310.9" y2="134.7" stroke="#3c3c3c" stroke-width="0.9"/>
<text x="305.8" y="26.7" font-size="7.6" fill="#2a2a2a" text-anchor="end" letter-spacing="0.2">2800</text>
<text x="305.8" y="46.7" font-size="7.6" fill="#2a2a2a" text-anchor="end" letter-spacing="0.2">2400</text>
<text x="305.8" y="61.2" font-size="7.6" fill="#2a2a2a" text-anchor="end" letter-spacing="0.2">1600</text>
<text x="305.8" y="80.7" font-size="7.6" fill="#2a2a2a" text-anchor="end" letter-spacing="0.2">1200</text>
<text x="305.8" y="99.1" font-size="7.6" fill="#2a2a2a" text-anchor="end" letter-spacing="0.2">800</text>
<text x="305.8" y="118.1" font-size="7.6" fill="#2a2a2a" text-anchor="end" letter-spacing="0.2">400</text>
<text x="305.8" y="137.3" font-size="7.6" fill="#2a2a2a" text-anchor="end" letter-spacing="0.2">0</text>
<text transform="translate(277.95 116.9) rotate(-90)" font-size="9.3" fill="#1a1a1a" stroke="#1a1a1a" stroke-width="0.25" textLength="63.1" lengthAdjust="spacingAndGlyphs">Absolute Cell Count/µl</text>
<line x1="344.5" y1="139.4" x2="344.5" y2="141.6" stroke="#3c3c3c" stroke-width="0.9"/>
<line x1="408.1" y1="139.4" x2="408.1" y2="141.6" stroke="#3c3c3c" stroke-width="0.9"/>
<line x1="470.4" y1="139.4" x2="470.4" y2="141.6" stroke="#3c3c3c" stroke-width="0.9"/>
<text x="344.2" y="149.4" font-size="7.6" font-weight="bold" text-anchor="middle" fill="#111" textLength="24.3" lengthAdjust="spacingAndGlyphs" stroke="#111" stroke-width="0.12">Day 28</text>
<text x="409.7" y="149.4" font-size="7.6" font-weight="bold" text-anchor="middle" fill="#111" textLength="28.6" lengthAdjust="spacingAndGlyphs" stroke="#111" stroke-width="0.12">Day 100</text>
<text x="473.9" y="149.4" font-size="7.6" font-weight="bold" text-anchor="middle" fill="#111" textLength="28.8" lengthAdjust="spacingAndGlyphs" stroke="#111" stroke-width="0.12">Day 180</text>
<rect x="316.5" y="30.25" width="52.25" height="11.25" fill="#fff" stroke="#333" stroke-width="1.3"/>
<rect x="319.7" y="33.17" width="5.4" height="5.4" fill="#e8ab9f" stroke="#d2343f" stroke-width="1"/>
<text x="326.5" y="38.62" font-size="7.6" font-weight="normal" text-anchor="start" fill="#1a1a1a" textLength="13.5" lengthAdjust="spacingAndGlyphs" stroke="#1a1a1a" stroke-width="0.12">RIC</text>
<rect x="343.5" y="33.17" width="5.4" height="5.4" fill="#a3acca" stroke="#2b5d98" stroke-width="1"/>
<text x="350.3" y="38.62" font-size="7.6" font-weight="normal" text-anchor="start" fill="#1a1a1a" textLength="17" lengthAdjust="spacingAndGlyphs" stroke="#1a1a1a" stroke-width="0.12">MAC</text>
<text x="32.4" y="165.2" font-size="10.8" font-weight="bold" text-anchor="start" fill="#111" stroke="#111" stroke-width="0.3">C</text>
<text x="126.8" y="167.5" font-size="8.6" font-weight="normal" text-anchor="start" fill="#2a2a2a" textLength="54" lengthAdjust="spacingAndGlyphs">FoxP3+Tregs</text>
<rect x="72.1" y="285.45" width="12.5" height="2.3" fill="#e08b7c" stroke="#d2343f" stroke-width="1.0"/>
<line x1="72.1" y1="286.6" x2="84.6" y2="286.6" stroke="#d2343f" stroke-width="1.0"/>
<circle cx="78.35" cy="230.8" r="1.6" fill="none" stroke="#d2343f" stroke-width="0.9"/>
<circle cx="78.35" cy="273" r="1.6" fill="none" stroke="#d2343f" stroke-width="0.9"/>
<circle cx="78.35" cy="282.4" r="1.6" fill="none" stroke="#d2343f" stroke-width="0.9"/>
<line x1="100.55" y1="268.2" x2="100.55" y2="274.7" stroke="#2b5d98" stroke-width="1.0"/>
<line x1="97.55" y1="268.2" x2="103.55" y2="268.2" stroke="#2b5d98" stroke-width="1.0"/>
<line x1="100.55" y1="286.9" x2="100.55" y2="288.7" stroke="#2b5d98" stroke-width="1.0"/>
<line x1="97.55" y1="288.7" x2="103.55" y2="288.7" stroke="#2b5d98" stroke-width="1.0"/>
<rect x="94.6" y="274.7" width="11.9" height="12.2" fill="#8592b9" stroke="#2b5d98" stroke-width="1.0"/>
<line x1="94.6" y1="282.4" x2="106.5" y2="282.4" stroke="#2b5d98" stroke-width="1.0"/>
<circle cx="100.55" cy="272.8" r="1.8" fill="none" stroke="#2b5d98" stroke-width="0.9"/>
<line x1="140.85" y1="234" x2="140.85" y2="261.2" stroke="#d2343f" stroke-width="1.0"/>
<line x1="137.85" y1="234" x2="143.85" y2="234" stroke="#d2343f" stroke-width="1.0"/>
<line x1="140.85" y1="282.8" x2="140.85" y2="288.8" stroke="#d2343f" stroke-width="1.0"/>
<line x1="137.85" y1="288.8" x2="143.85" y2="288.8" stroke="#d2343f" stroke-width="1.0"/>
<rect x="135" y="261.2" width="11.7" height="21.6" fill="#e08b7c" stroke="#d2343f" stroke-width="1.0"/>
<line x1="135" y1="265.4" x2="146.7" y2="265.4" stroke="#d2343f" stroke-width="1.0"/>
<circle cx="140.85" cy="266.7" r="1.6" fill="none" stroke="#d2343f" stroke-width="0.9"/>
<circle cx="140.85" cy="211.9" r="1.6" fill="none" stroke="#d2343f" stroke-width="0.9"/>
<line x1="162.95" y1="252.2" x2="162.95" y2="261.2" stroke="#2b5d98" stroke-width="1.0"/>
<line x1="159.95" y1="252.2" x2="165.95" y2="252.2" stroke="#2b5d98" stroke-width="1.0"/>
<line x1="162.95" y1="275.4" x2="162.95" y2="284.6" stroke="#2b5d98" stroke-width="1.0"/>
<line x1="159.95" y1="284.6" x2="165.95" y2="284.6" stroke="#2b5d98" stroke-width="1.0"/>
<rect x="156.8" y="261.2" width="12.3" height="14.2" fill="#8592b9" stroke="#2b5d98" stroke-width="1.0"/>
<line x1="156.8" y1="264.9" x2="169.1" y2="264.9" stroke="#2b5d98" stroke-width="1.0"/>
<circle cx="162.95" cy="265.7" r="1.7" fill="none" stroke="#2b5d98" stroke-width="0.9"/>
<circle cx="162.95" cy="234.8" r="1.5" fill="none" stroke="#2b5d98" stroke-width="0.9"/>
<line x1="203.25" y1="207.6" x2="203.25" y2="237.3" stroke="#d2343f" stroke-width="1.0"/>
<line x1="203.25" y1="276.9" x2="203.25" y2="288.5" stroke="#d2343f" stroke-width="1.0"/>
<line x1="200.25" y1="288.5" x2="206.25" y2="288.5" stroke="#d2343f" stroke-width="1.0"/>
<rect x="197.4" y="237.3" width="11.7" height="39.6" fill="#e08b7c" stroke="#d2343f" stroke-width="1.0"/>
<line x1="197.4" y1="268.7" x2="209.1" y2="268.7" stroke="#d2343f" stroke-width="1.0"/>
<path d="M203.25 248.7 L204.95 250.4 L203.25 252.1 L201.55 250.4 Z" fill="none" stroke="#d2343f" stroke-width="0.9"/>
<line x1="225.75" y1="215.4" x2="225.75" y2="240.3" stroke="#2b5d98" stroke-width="1.0"/>
<line x1="222.5" y1="215.4" x2="229" y2="215.4" stroke="#2b5d98" stroke-width="1.0"/>
<line x1="225.75" y1="269.4" x2="225.75" y2="281.3" stroke="#2b5d98" stroke-width="1.0"/>
<line x1="222.5" y1="281.3" x2="229" y2="281.3" stroke="#2b5d98" stroke-width="1.0"/>
<rect x="219.5" y="240.3" width="12.5" height="29.1" fill="#8592b9" stroke="#2b5d98" stroke-width="1.0"/>
<line x1="219.5" y1="258.7" x2="232" y2="258.7" stroke="#2b5d98" stroke-width="1.0"/>
<circle cx="225.75" cy="252.7" r="1.8" fill="none" stroke="#2b5d98" stroke-width="0.9"/>
<circle cx="100.8" cy="203" r="1.5" fill="none" stroke="#2b5d98" stroke-width="0.9"/>
<line x1="52.5" y1="189.6" x2="55.5" y2="189.6" stroke="#3c3c3c" stroke-width="0.9"/>
<line x1="52.5" y1="202.9" x2="55.5" y2="202.9" stroke="#3c3c3c" stroke-width="0.9"/>
<line x1="52.5" y1="218.5" x2="55.5" y2="218.5" stroke="#3c3c3c" stroke-width="0.9"/>
<line x1="52.5" y1="232.2" x2="55.5" y2="232.2" stroke="#3c3c3c" stroke-width="0.9"/>
<line x1="52.5" y1="246.3" x2="55.5" y2="246.3" stroke="#3c3c3c" stroke-width="0.9"/>
<line x1="52.5" y1="260.4" x2="55.5" y2="260.4" stroke="#3c3c3c" stroke-width="0.9"/>
<line x1="52.5" y1="274.5" x2="55.5" y2="274.5" stroke="#3c3c3c" stroke-width="0.9"/>
<line x1="52.5" y1="289.1" x2="55.5" y2="289.1" stroke="#3c3c3c" stroke-width="0.9"/>
<text x="50.5" y="192.2" font-size="7.6" fill="#2a2a2a" text-anchor="end" letter-spacing="0.2">25</text>
<text x="50.5" y="205.5" font-size="7.6" fill="#2a2a2a" text-anchor="end" letter-spacing="0.2">23</text>
<text x="50.5" y="221.1" font-size="7.6" fill="#2a2a2a" text-anchor="end" letter-spacing="0.2">10</text>
<text x="50.5" y="234.8" font-size="7.6" fill="#2a2a2a" text-anchor="end" letter-spacing="0.2">8</text>
<text x="50.5" y="248.9" font-size="7.6" fill="#2a2a2a" text-anchor="end" letter-spacing="0.2">6</text>
<text x="50.5" y="263" font-size="7.6" fill="#2a2a2a" text-anchor="end" letter-spacing="0.2">4</text>
<text x="50.5" y="277.1" font-size="7.6" fill="#2a2a2a" text-anchor="end" letter-spacing="0.2">2</text>
<text x="50.5" y="291.7" font-size="7.6" fill="#2a2a2a" text-anchor="end" letter-spacing="0.2">0</text>
<text transform="translate(32.95 268.9) rotate(-90)" font-size="9.3" fill="#1a1a1a" stroke="#1a1a1a" stroke-width="0.25" textLength="62.5" lengthAdjust="spacingAndGlyphs">Absolute Cell Count/µl</text>
<line x1="88.7" y1="293.8" x2="88.7" y2="296" stroke="#3c3c3c" stroke-width="0.9"/>
<line x1="152.1" y1="293.8" x2="152.1" y2="296" stroke="#3c3c3c" stroke-width="0.9"/>
<line x1="214.9" y1="293.8" x2="214.9" y2="296" stroke="#3c3c3c" stroke-width="0.9"/>
<text x="89.8" y="302.1" font-size="7.6" font-weight="bold" text-anchor="middle" fill="#111" textLength="24.3" lengthAdjust="spacingAndGlyphs" stroke="#111" stroke-width="0.12">Day 28</text>
<text x="153.2" y="302.1" font-size="7.6" font-weight="bold" text-anchor="middle" fill="#111" textLength="28.6" lengthAdjust="spacingAndGlyphs" stroke="#111" stroke-width="0.12">Day 100</text>
<text x="217.9" y="302.1" font-size="7.6" font-weight="bold" text-anchor="middle" fill="#111" textLength="28.8" lengthAdjust="spacingAndGlyphs" stroke="#111" stroke-width="0.12">Day 180</text>
<rect x="62.8" y="179.7" width="52.4" height="11.8" fill="#fff" stroke="#333" stroke-width="1.3"/>
<rect x="66" y="182.9" width="5.4" height="5.4" fill="#e8ab9f" stroke="#d2343f" stroke-width="1"/>
<text x="72.8" y="188.35" font-size="7.6" font-weight="normal" text-anchor="start" fill="#1a1a1a" textLength="13.5" lengthAdjust="spacingAndGlyphs" stroke="#1a1a1a" stroke-width="0.12">RIC</text>
<rect x="89.8" y="182.9" width="5.4" height="5.4" fill="#a3acca" stroke="#2b5d98" stroke-width="1"/>
<text x="96.6" y="188.35" font-size="7.6" font-weight="normal" text-anchor="start" fill="#1a1a1a" textLength="17" lengthAdjust="spacingAndGlyphs" stroke="#1a1a1a" stroke-width="0.12">MAC</text>
<text x="270.4" y="165.2" font-size="10.8" font-weight="bold" text-anchor="start" fill="#111" stroke="#111" stroke-width="0.3">D</text>
<text x="383.8" y="167.8" font-size="8.6" font-weight="normal" text-anchor="start" fill="#2a2a2a" textLength="61.8" lengthAdjust="spacingAndGlyphs">CD19+ B Cells</text>
<line x1="334.6" y1="281.4" x2="334.6" y2="285.35" stroke="#d2343f" stroke-width="1.0"/>
<line x1="331.6" y1="281.4" x2="337.6" y2="281.4" stroke="#d2343f" stroke-width="1.0"/>
<rect x="328" y="285.35" width="13.2" height="2.1" fill="#e08b7c" stroke="#d2343f" stroke-width="1.0"/>
<line x1="328" y1="286.4" x2="341.2" y2="286.4" stroke="#d2343f" stroke-width="1.0"/>
<circle cx="334.6" cy="276.5" r="1.4" fill="none" stroke="#d2343f" stroke-width="0.9"/>
<circle cx="334.6" cy="278.9" r="1.4" fill="none" stroke="#d2343f" stroke-width="0.9"/>
<rect x="350.5" y="286.15" width="13.4" height="1.5" fill="#8592b9" stroke="#2b5d98" stroke-width="1.0"/>
<line x1="350.5" y1="286.9" x2="363.9" y2="286.9" stroke="#2b5d98" stroke-width="1.0"/>
<circle cx="357.2" cy="271.3" r="1.5" fill="none" stroke="#2b5d98" stroke-width="0.9"/>
<circle cx="357.2" cy="275.4" r="1.5" fill="none" stroke="#2b5d98" stroke-width="0.9"/>
<circle cx="357.2" cy="281.2" r="1.5" fill="none" stroke="#2b5d98" stroke-width="0.9"/>
<circle cx="357.2" cy="283.5" r="1.5" fill="none" stroke="#2b5d98" stroke-width="0.9"/>
<rect x="392.1" y="281.3" width="13.1" height="6.5" fill="#e08b7c" stroke="#d2343f" stroke-width="1.0"/>
<line x1="392.1" y1="284.5" x2="405.2" y2="284.5" stroke="#d2343f" stroke-width="1.0"/>
<circle cx="398.65" cy="280.6" r="1.3" fill="none" stroke="#d2343f" stroke-width="0.9"/>
<circle cx="398.65" cy="253.7" r="1.4" fill="none" stroke="#d2343f" stroke-width="0.9"/>
<circle cx="398.65" cy="266.9" r="1.4" fill="none" stroke="#d2343f" stroke-width="0.9"/>
<line x1="420.9" y1="230.6" x2="420.9" y2="259.7" stroke="#2b5d98" stroke-width="1.0"/>
<line x1="417.9" y1="230.6" x2="423.9" y2="230.6" stroke="#2b5d98" stroke-width="1.0"/>
<line x1="420.9" y1="284.3" x2="420.9" y2="287.3" stroke="#2b5d98" stroke-width="1.0"/>
<line x1="417.9" y1="287.3" x2="423.9" y2="287.3" stroke="#2b5d98" stroke-width="1.0"/>
<rect x="414.5" y="259.7" width="12.8" height="24.6" fill="#8592b9" stroke="#2b5d98" stroke-width="1.0"/>
<circle cx="420.9" cy="266.4" r="1.8" fill="none" stroke="#2b5d98" stroke-width="0.9"/>
<circle cx="420.9" cy="205.7" r="1.5" fill="none" stroke="#2b5d98" stroke-width="0.9"/>
<line x1="462.4" y1="200.4" x2="462.4" y2="223.9" stroke="#d2343f" stroke-width="1.0"/>
<line x1="459.15" y1="200.4" x2="465.65" y2="200.4" stroke="#d2343f" stroke-width="1.0"/>
<line x1="462.4" y1="282.1" x2="462.4" y2="287" stroke="#d2343f" stroke-width="1.0"/>
<line x1="459.15" y1="287" x2="465.65" y2="287" stroke="#d2343f" stroke-width="1.0"/>
<rect x="456.2" y="223.9" width="12.4" height="58.2" fill="#e08b7c" stroke="#d2343f" stroke-width="1.0"/>
<line x1="456.2" y1="266.4" x2="468.6" y2="266.4" stroke="#d2343f" stroke-width="1.0"/>
<circle cx="462.4" cy="248.8" r="1.5" fill="none" stroke="#d2343f" stroke-width="0.9"/>
<line x1="485.15" y1="194.4" x2="485.15" y2="218.4" stroke="#2b5d98" stroke-width="1.0"/>
<line x1="481.9" y1="194.4" x2="488.4" y2="194.4" stroke="#2b5d98" stroke-width="1.0"/>
<line x1="485.15" y1="283.3" x2="485.15" y2="286.6" stroke="#2b5d98" stroke-width="1.0"/>
<line x1="481.9" y1="286.6" x2="488.4" y2="286.6" stroke="#2b5d98" stroke-width="1.0"/>
<rect x="478.9" y="218.4" width="12.5" height="64.9" fill="#8592b9" stroke="#2b5d98" stroke-width="1.0"/>
<line x1="478.9" y1="251.5" x2="491.4" y2="251.5" stroke="#2b5d98" stroke-width="1.0"/>
<circle cx="485.15" cy="221.6" r="1.8" fill="none" stroke="#2b5d98" stroke-width="0.9"/>
<circle cx="485.15" cy="185" r="1.5" fill="none" stroke="#2b5d98" stroke-width="0.9"/>
<line x1="308.4" y1="182.75" x2="311.4" y2="182.75" stroke="#3c3c3c" stroke-width="0.9"/>
<line x1="308.4" y1="195.3" x2="311.4" y2="195.3" stroke="#3c3c3c" stroke-width="0.9"/>
<line x1="308.4" y1="202.9" x2="311.4" y2="202.9" stroke="#3c3c3c" stroke-width="0.9"/>
<line x1="308.4" y1="215.4" x2="311.4" y2="215.4" stroke="#3c3c3c" stroke-width="0.9"/>
<line x1="308.4" y1="239.6" x2="311.4" y2="239.6" stroke="#3c3c3c" stroke-width="0.9"/>
<line x1="308.4" y1="263.8" x2="311.4" y2="263.8" stroke="#3c3c3c" stroke-width="0.9"/>
<line x1="308.4" y1="288.1" x2="311.4" y2="288.1" stroke="#3c3c3c" stroke-width="0.9"/>
<line x1="309.4" y1="223.5" x2="311.4" y2="223.5" stroke="#3c3c3c" stroke-width="0.9"/>
<line x1="309.4" y1="231.6" x2="311.4" y2="231.6" stroke="#3c3c3c" stroke-width="0.9"/>
<line x1="309.4" y1="247.7" x2="311.4" y2="247.7" stroke="#3c3c3c" stroke-width="0.9"/>
<line x1="309.4" y1="255.8" x2="311.4" y2="255.8" stroke="#3c3c3c" stroke-width="0.9"/>
<line x1="309.4" y1="271.9" x2="311.4" y2="271.9" stroke="#3c3c3c" stroke-width="0.9"/>
<line x1="309.4" y1="280" x2="311.4" y2="280" stroke="#3c3c3c" stroke-width="0.9"/>
<text x="305.5" y="185.35" font-size="7.6" fill="#2a2a2a" text-anchor="end" letter-spacing="0.2">370</text>
<text x="305.5" y="197.9" font-size="7.6" fill="#2a2a2a" text-anchor="end" letter-spacing="0.2">132</text>
<text x="305.5" y="205.5" font-size="7.6" fill="#2a2a2a" text-anchor="end" letter-spacing="0.2">124</text>
<text x="305.5" y="218" font-size="7.6" fill="#2a2a2a" text-anchor="end" letter-spacing="0.2">72</text>
<text x="305.5" y="242.2" font-size="7.6" fill="#2a2a2a" text-anchor="end" letter-spacing="0.2">48</text>
<text x="305.5" y="266.4" font-size="7.6" fill="#2a2a2a" text-anchor="end" letter-spacing="0.2">24</text>
<text x="305.5" y="290.7" font-size="7.6" fill="#2a2a2a" text-anchor="end" letter-spacing="0.2">0</text>
<text transform="translate(278.35 271.9) rotate(-90)" font-size="9.3" fill="#1a1a1a" stroke="#1a1a1a" stroke-width="0.25" textLength="63.5" lengthAdjust="spacingAndGlyphs">Absolute Cell Count/µl</text>
<line x1="345.6" y1="293.4" x2="345.6" y2="295.6" stroke="#3c3c3c" stroke-width="0.9"/>
<line x1="409.4" y1="293.4" x2="409.4" y2="295.6" stroke="#3c3c3c" stroke-width="0.9"/>
<line x1="471.3" y1="293.4" x2="471.3" y2="295.6" stroke="#3c3c3c" stroke-width="0.9"/>
<text x="348.9" y="302" font-size="7.6" font-weight="bold" text-anchor="middle" fill="#111" textLength="24.3" lengthAdjust="spacingAndGlyphs" stroke="#111" stroke-width="0.12">Day 28</text>
<text x="412.5" y="302" font-size="7.6" font-weight="bold" text-anchor="middle" fill="#111" textLength="28.6" lengthAdjust="spacingAndGlyphs" stroke="#111" stroke-width="0.12">Day 100</text>
<text x="476.7" y="302" font-size="7.6" font-weight="bold" text-anchor="middle" fill="#111" textLength="28.8" lengthAdjust="spacingAndGlyphs" stroke="#111" stroke-width="0.12">Day 180</text>
<rect x="316.4" y="179.7" width="52.3" height="11.6" fill="#fff" stroke="#333" stroke-width="1.3"/>
<rect x="319.6" y="182.8" width="5.4" height="5.4" fill="#e8ab9f" stroke="#d2343f" stroke-width="1"/>
<text x="326.4" y="188.25" font-size="7.6" font-weight="normal" text-anchor="start" fill="#1a1a1a" textLength="13.5" lengthAdjust="spacingAndGlyphs" stroke="#1a1a1a" stroke-width="0.12">RIC</text>
<rect x="343.4" y="182.8" width="5.4" height="5.4" fill="#a3acca" stroke="#2b5d98" stroke-width="1"/>
<text x="350.2" y="188.25" font-size="7.6" font-weight="normal" text-anchor="start" fill="#1a1a1a" textLength="17" lengthAdjust="spacingAndGlyphs" stroke="#1a1a1a" stroke-width="0.12">MAC</text>
<text x="32.4" y="318.2" font-size="10.8" font-weight="bold" text-anchor="start" fill="#111" stroke="#111" stroke-width="0.3">E</text>
<text x="121.6" y="325.05" font-size="8.6" font-weight="normal" text-anchor="start" fill="#2a2a2a" textLength="67.5" lengthAdjust="spacingAndGlyphs">CD56+ NK Cells</text>
<line x1="76.25" y1="411.3" x2="76.25" y2="427.9" stroke="#d2343f" stroke-width="1.0"/>
<line x1="73.25" y1="411.3" x2="79.25" y2="411.3" stroke="#d2343f" stroke-width="1.0"/>
<line x1="76.25" y1="441.1" x2="76.25" y2="445" stroke="#d2343f" stroke-width="1.0"/>
<line x1="73.25" y1="445" x2="79.25" y2="445" stroke="#d2343f" stroke-width="1.0"/>
<rect x="70" y="427.9" width="12.5" height="13.2" fill="#e08b7c" stroke="#d2343f" stroke-width="1.0"/>
<line x1="70" y1="431.2" x2="82.5" y2="431.2" stroke="#d2343f" stroke-width="1.0"/>
<circle cx="76.25" cy="428.1" r="1.5" fill="none" stroke="#d2343f" stroke-width="0.9"/>
<line x1="98.75" y1="383.5" x2="98.75" y2="408.8" stroke="#2b5d98" stroke-width="1.0"/>
<line x1="95.75" y1="383.5" x2="101.75" y2="383.5" stroke="#2b5d98" stroke-width="1.0"/>
<line x1="98.75" y1="434.3" x2="98.75" y2="445" stroke="#2b5d98" stroke-width="1.0"/>
<line x1="95.75" y1="445" x2="101.75" y2="445" stroke="#2b5d98" stroke-width="1.0"/>
<rect x="92.5" y="408.8" width="12.5" height="25.5" fill="#8592b9" stroke="#2b5d98" stroke-width="1.0"/>
<line x1="92.5" y1="419.5" x2="105" y2="419.5" stroke="#2b5d98" stroke-width="1.0"/>
<circle cx="98.75" cy="419.5" r="1.7" fill="none" stroke="#2b5d98" stroke-width="0.9"/>
<line x1="140.2" y1="374.9" x2="140.2" y2="396.4" stroke="#d2343f" stroke-width="1.0"/>
<line x1="137.2" y1="374.9" x2="143.2" y2="374.9" stroke="#d2343f" stroke-width="1.0"/>
<line x1="140.2" y1="425.5" x2="140.2" y2="445.3" stroke="#d2343f" stroke-width="1.0"/>
<line x1="137.2" y1="445.3" x2="143.2" y2="445.3" stroke="#d2343f" stroke-width="1.0"/>
<rect x="133.7" y="396.4" width="13" height="29.1" fill="#e08b7c" stroke="#d2343f" stroke-width="1.0"/>
<line x1="133.7" y1="413.3" x2="146.7" y2="413.3" stroke="#d2343f" stroke-width="1.0"/>
<circle cx="140.2" cy="408.4" r="1.5" fill="none" stroke="#d2343f" stroke-width="0.9"/>
<circle cx="140.2" cy="342.1" r="1.5" fill="none" stroke="#d2343f" stroke-width="0.9"/>
<line x1="162.7" y1="347.9" x2="162.7" y2="391" stroke="#2b5d98" stroke-width="1.0"/>
<line x1="159.7" y1="347.9" x2="165.7" y2="347.9" stroke="#2b5d98" stroke-width="1.0"/>
<line x1="162.7" y1="427.8" x2="162.7" y2="434" stroke="#2b5d98" stroke-width="1.0"/>
<line x1="159.7" y1="434" x2="165.7" y2="434" stroke="#2b5d98" stroke-width="1.0"/>
<rect x="156" y="391" width="13.4" height="36.8" fill="#8592b9" stroke="#2b5d98" stroke-width="1.0"/>
<line x1="156" y1="413.7" x2="169.4" y2="413.7" stroke="#2b5d98" stroke-width="1.0"/>
<circle cx="162.7" cy="403.2" r="1.8" fill="none" stroke="#2b5d98" stroke-width="0.9"/>
<line x1="204.2" y1="365.2" x2="204.2" y2="394.3" stroke="#d2343f" stroke-width="1.0"/>
<line x1="201.2" y1="365.2" x2="207.2" y2="365.2" stroke="#d2343f" stroke-width="1.0"/>
<line x1="204.2" y1="423.4" x2="204.2" y2="433.3" stroke="#d2343f" stroke-width="1.0"/>
<line x1="201.2" y1="433.3" x2="207.2" y2="433.3" stroke="#d2343f" stroke-width="1.0"/>
<rect x="197.7" y="394.3" width="13" height="29.1" fill="#e08b7c" stroke="#d2343f" stroke-width="1.0"/>
<line x1="197.7" y1="406.5" x2="210.7" y2="406.5" stroke="#d2343f" stroke-width="1.0"/>
<circle cx="204.2" cy="406.9" r="1.6" fill="none" stroke="#d2343f" stroke-width="0.9"/>
<line x1="226.7" y1="414.8" x2="226.7" y2="427.4" stroke="#2b5d98" stroke-width="1.0"/>
<line x1="223.7" y1="427.4" x2="229.7" y2="427.4" stroke="#2b5d98" stroke-width="1.0"/>
<rect x="220.4" y="398.7" width="12.6" height="16.1" fill="#8592b9" stroke="#2b5d98" stroke-width="1.0"/>
<line x1="220.4" y1="408.8" x2="233" y2="408.8" stroke="#2b5d98" stroke-width="1.0"/>
<circle cx="226.7" cy="402.6" r="1.7" fill="none" stroke="#2b5d98" stroke-width="0.9"/>
<circle cx="226.7" cy="369.2" r="1.3" fill="none" stroke="#2b5d98" stroke-width="0.9"/>
<circle cx="226.7" cy="372.1" r="1.3" fill="none" stroke="#2b5d98" stroke-width="0.9"/>
<circle cx="226.7" cy="375.2" r="1.3" fill="none" stroke="#2b5d98" stroke-width="0.9"/>
<line x1="49.5" y1="336.1" x2="52.5" y2="336.1" stroke="#3c3c3c" stroke-width="0.9"/>
<line x1="49.5" y1="347.2" x2="52.5" y2="347.2" stroke="#3c3c3c" stroke-width="0.9"/>
<line x1="49.5" y1="372" x2="52.5" y2="372" stroke="#3c3c3c" stroke-width="0.9"/>
<line x1="49.5" y1="396.7" x2="52.5" y2="396.7" stroke="#3c3c3c" stroke-width="0.9"/>
<line x1="49.5" y1="420.9" x2="52.5" y2="420.9" stroke="#3c3c3c" stroke-width="0.9"/>
<line x1="49.5" y1="445.5" x2="52.5" y2="445.5" stroke="#3c3c3c" stroke-width="0.9"/>
<line x1="50.5" y1="355.3" x2="52.5" y2="355.3" stroke="#3c3c3c" stroke-width="0.9"/>
<line x1="50.5" y1="364" x2="52.5" y2="364" stroke="#3c3c3c" stroke-width="0.9"/>
<line x1="50.5" y1="380.1" x2="52.5" y2="380.1" stroke="#3c3c3c" stroke-width="0.9"/>
<line x1="50.5" y1="388.2" x2="52.5" y2="388.2" stroke="#3c3c3c" stroke-width="0.9"/>
<line x1="50.5" y1="404.7" x2="52.5" y2="404.7" stroke="#3c3c3c" stroke-width="0.9"/>
<line x1="50.5" y1="412.8" x2="52.5" y2="412.8" stroke="#3c3c3c" stroke-width="0.9"/>
<line x1="50.5" y1="428.9" x2="52.5" y2="428.9" stroke="#3c3c3c" stroke-width="0.9"/>
<line x1="50.5" y1="437" x2="52.5" y2="437" stroke="#3c3c3c" stroke-width="0.9"/>
<text x="50.1" y="338.7" font-size="7.6" fill="#2a2a2a" text-anchor="end" letter-spacing="0.2">590</text>
<text x="50.1" y="349.8" font-size="7.6" fill="#2a2a2a" text-anchor="end" letter-spacing="0.2">480</text>
<text x="50.1" y="374.6" font-size="7.6" fill="#2a2a2a" text-anchor="end" letter-spacing="0.2">360</text>
<text x="50.1" y="399.3" font-size="7.6" fill="#2a2a2a" text-anchor="end" letter-spacing="0.2">240</text>
<text x="50.1" y="423.5" font-size="7.6" fill="#2a2a2a" text-anchor="end" letter-spacing="0.2">120</text>
<text x="50.1" y="448.1" font-size="7.6" fill="#2a2a2a" text-anchor="end" letter-spacing="0.2">0</text>
<text transform="translate(30.45 422.9) rotate(-90)" font-size="9.3" fill="#1a1a1a" stroke="#1a1a1a" stroke-width="0.25" textLength="63.6" lengthAdjust="spacingAndGlyphs">Absolute Cell Count/µl</text>
<line x1="86.6" y1="449.3" x2="86.6" y2="451.5" stroke="#3c3c3c" stroke-width="0.9"/>
<line x1="151.4" y1="449.3" x2="151.4" y2="451.5" stroke="#3c3c3c" stroke-width="0.9"/>
<line x1="215.1" y1="449.3" x2="215.1" y2="451.5" stroke="#3c3c3c" stroke-width="0.9"/>
<text x="86.9" y="458.8" font-size="7.6" font-weight="bold" text-anchor="middle" fill="#111" textLength="24.3" lengthAdjust="spacingAndGlyphs" stroke="#111" stroke-width="0.12">Day 28</text>
<text x="150.3" y="458.8" font-size="7.6" font-weight="bold" text-anchor="middle" fill="#111" textLength="28.6" lengthAdjust="spacingAndGlyphs" stroke="#111" stroke-width="0.12">Day 100</text>
<text x="215" y="458.8" font-size="7.6" font-weight="bold" text-anchor="middle" fill="#111" textLength="28.8" lengthAdjust="spacingAndGlyphs" stroke="#111" stroke-width="0.12">Day 180</text>
<rect x="55.1" y="351.5" width="52.5" height="11.9" fill="#fff" stroke="#333" stroke-width="1.3"/>
<rect x="58.3" y="354.75" width="5.4" height="5.4" fill="#e8ab9f" stroke="#d2343f" stroke-width="1"/>
<text x="65.1" y="360.2" font-size="7.6" font-weight="normal" text-anchor="start" fill="#1a1a1a" textLength="13.5" lengthAdjust="spacingAndGlyphs" stroke="#1a1a1a" stroke-width="0.12">RIC</text>
<rect x="82.1" y="354.75" width="5.4" height="5.4" fill="#a3acca" stroke="#2b5d98" stroke-width="1"/>
<text x="88.9" y="360.2" font-size="7.6" font-weight="normal" text-anchor="start" fill="#1a1a1a" textLength="17" lengthAdjust="spacingAndGlyphs" stroke="#1a1a1a" stroke-width="0.12">MAC</text>
<text x="272" y="318.2" font-size="10.8" font-weight="bold" text-anchor="start" fill="#111" stroke="#111" stroke-width="0.3">F</text>
<text x="403.6" y="324.8" font-size="8.6" font-weight="normal" text-anchor="start" fill="#2a2a2a" textLength="17.6" lengthAdjust="spacingAndGlyphs">ALC</text>
<line x1="333.85" y1="433.7" x2="333.85" y2="435" stroke="#d2343f" stroke-width="1.0"/>
<line x1="330.85" y1="433.7" x2="336.85" y2="433.7" stroke="#d2343f" stroke-width="1.0"/>
<line x1="333.85" y1="441.3" x2="333.85" y2="444.7" stroke="#d2343f" stroke-width="1.0"/>
<line x1="330.85" y1="444.7" x2="336.85" y2="444.7" stroke="#d2343f" stroke-width="1.0"/>
<rect x="327.6" y="435" width="12.5" height="6.3" fill="#e08b7c" stroke="#d2343f" stroke-width="1.0"/>
<circle cx="333.85" cy="395.6" r="1.5" fill="none" stroke="#d2343f" stroke-width="0.9"/>
<circle cx="333.3" cy="423.6" r="1.5" fill="none" stroke="#d2343f" stroke-width="0.9"/>
<circle cx="338.3" cy="423.6" r="1.5" fill="none" stroke="#d2343f" stroke-width="0.9"/>
<line x1="356.05" y1="413.1" x2="356.05" y2="426.5" stroke="#2b5d98" stroke-width="1.0"/>
<line x1="353.05" y1="413.1" x2="359.05" y2="413.1" stroke="#2b5d98" stroke-width="1.0"/>
<line x1="356.05" y1="441.1" x2="356.05" y2="444.3" stroke="#2b5d98" stroke-width="1.0"/>
<line x1="353.05" y1="444.3" x2="359.05" y2="444.3" stroke="#2b5d98" stroke-width="1.0"/>
<rect x="349.8" y="426.5" width="12.5" height="14.6" fill="#8592b9" stroke="#2b5d98" stroke-width="1.0"/>
<line x1="349.8" y1="435.3" x2="362.3" y2="435.3" stroke="#2b5d98" stroke-width="1.0"/>
<circle cx="356.05" cy="432.2" r="1.8" fill="none" stroke="#2b5d98" stroke-width="0.9"/>
<circle cx="356.05" cy="402.6" r="1.5" fill="none" stroke="#2b5d98" stroke-width="0.9"/>
<line x1="398.05" y1="409.4" x2="398.05" y2="423.6" stroke="#d2343f" stroke-width="1.0"/>
<line x1="395.05" y1="409.4" x2="401.05" y2="409.4" stroke="#d2343f" stroke-width="1.0"/>
<line x1="398.05" y1="437.5" x2="398.05" y2="444.9" stroke="#d2343f" stroke-width="1.0"/>
<line x1="395.05" y1="444.9" x2="401.05" y2="444.9" stroke="#d2343f" stroke-width="1.0"/>
<rect x="391.8" y="423.6" width="12.5" height="13.9" fill="#e08b7c" stroke="#d2343f" stroke-width="1.0"/>
<line x1="391.8" y1="430.7" x2="404.3" y2="430.7" stroke="#d2343f" stroke-width="1.0"/>
<circle cx="398.05" cy="426.3" r="1.5" fill="none" stroke="#d2343f" stroke-width="0.9"/>
<line x1="420.55" y1="409.4" x2="420.55" y2="412.3" stroke="#2b5d98" stroke-width="1.0"/>
<line x1="417.55" y1="409.4" x2="423.55" y2="409.4" stroke="#2b5d98" stroke-width="1.0"/>
<line x1="420.55" y1="427.4" x2="420.55" y2="437.5" stroke="#2b5d98" stroke-width="1.0"/>
<line x1="417.55" y1="437.5" x2="423.55" y2="437.5" stroke="#2b5d98" stroke-width="1.0"/>
<rect x="414.1" y="412.3" width="12.9" height="15.1" fill="#8592b9" stroke="#2b5d98" stroke-width="1.0"/>
<line x1="414.1" y1="420.7" x2="427" y2="420.7" stroke="#2b5d98" stroke-width="1.0"/>
<circle cx="420.55" cy="415.2" r="1.8" fill="none" stroke="#2b5d98" stroke-width="0.9"/>
<circle cx="420.55" cy="366.3" r="1.4" fill="none" stroke="#2b5d98" stroke-width="0.9"/>
<line x1="462.5" y1="338" x2="462.5" y2="376.8" stroke="#d2343f" stroke-width="1.0"/>
<line x1="459.5" y1="338" x2="465.5" y2="338" stroke="#d2343f" stroke-width="1.0"/>
<line x1="462.5" y1="434.6" x2="462.5" y2="437.1" stroke="#d2343f" stroke-width="1.0"/>
<line x1="459.5" y1="437.1" x2="465.5" y2="437.1" stroke="#d2343f" stroke-width="1.0"/>
<rect x="456.2" y="376.8" width="12.6" height="57.8" fill="#e08b7c" stroke="#d2343f" stroke-width="1.0"/>
<circle cx="462.5" cy="387.7" r="1.5" fill="none" stroke="#d2343f" stroke-width="0.9"/>
<line x1="485" y1="381.3" x2="485" y2="399.3" stroke="#2b5d98" stroke-width="1.0"/>
<line x1="482" y1="381.3" x2="488" y2="381.3" stroke="#2b5d98" stroke-width="1.0"/>
<line x1="485" y1="420.1" x2="485" y2="430.4" stroke="#2b5d98" stroke-width="1.0"/>
<line x1="482" y1="430.4" x2="488" y2="430.4" stroke="#2b5d98" stroke-width="1.0"/>
<rect x="478.9" y="399.3" width="12.2" height="20.8" fill="#8592b9" stroke="#2b5d98" stroke-width="1.0"/>
<line x1="478.9" y1="413.7" x2="491.1" y2="413.7" stroke="#2b5d98" stroke-width="1.0"/>
<circle cx="485" cy="411" r="1.8" fill="none" stroke="#2b5d98" stroke-width="0.9"/>
<line x1="307.2" y1="334.7" x2="310.2" y2="334.7" stroke="#3c3c3c" stroke-width="0.9"/>
<line x1="307.2" y1="352.2" x2="310.2" y2="352.2" stroke="#3c3c3c" stroke-width="0.9"/>
<line x1="307.2" y1="369.6" x2="310.2" y2="369.6" stroke="#3c3c3c" stroke-width="0.9"/>
<line x1="307.2" y1="391.9" x2="310.2" y2="391.9" stroke="#3c3c3c" stroke-width="0.9"/>
<line x1="307.2" y1="409.4" x2="310.2" y2="409.4" stroke="#3c3c3c" stroke-width="0.9"/>
<line x1="307.2" y1="426.9" x2="310.2" y2="426.9" stroke="#3c3c3c" stroke-width="0.9"/>
<line x1="307.2" y1="444.3" x2="310.2" y2="444.3" stroke="#3c3c3c" stroke-width="0.9"/>
<text x="304.4" y="337.3" font-size="7.6" fill="#2a2a2a" text-anchor="end" letter-spacing="0.2">4.5</text>
<text x="304.4" y="354.8" font-size="7.6" fill="#2a2a2a" text-anchor="end" letter-spacing="0.2">4.0</text>
<text x="304.4" y="372.2" font-size="7.6" fill="#2a2a2a" text-anchor="end" letter-spacing="0.2">3.5</text>
<text x="304.4" y="394.5" font-size="7.6" fill="#2a2a2a" text-anchor="end" letter-spacing="0.2">1.5</text>
<text x="304.4" y="412" font-size="7.6" fill="#2a2a2a" text-anchor="end" letter-spacing="0.2">1.0</text>
<text x="304.4" y="429.5" font-size="7.6" fill="#2a2a2a" text-anchor="end" letter-spacing="0.2">0.5</text>
<text x="304.4" y="446.9" font-size="7.6" fill="#2a2a2a" text-anchor="end" letter-spacing="0.2">0</text>
<text transform="translate(278.45 436.3) rotate(-90)" font-size="9.3" fill="#1a1a1a" stroke="#1a1a1a" stroke-width="0.25" textLength="80.6" lengthAdjust="spacingAndGlyphs">Absolute Cell Count x 600/µl</text>
<line x1="344.6" y1="449.3" x2="344.6" y2="451.5" stroke="#3c3c3c" stroke-width="0.9"/>
<line x1="409.1" y1="449.3" x2="409.1" y2="451.5" stroke="#3c3c3c" stroke-width="0.9"/>
<line x1="474.1" y1="449.3" x2="474.1" y2="451.5" stroke="#3c3c3c" stroke-width="0.9"/>
<text x="347.45" y="458.9" font-size="7.6" font-weight="bold" text-anchor="middle" fill="#111" textLength="24.3" lengthAdjust="spacingAndGlyphs" stroke="#111" stroke-width="0.12">Day 28</text>
<text x="410.8" y="458.9" font-size="7.6" font-weight="bold" text-anchor="middle" fill="#111" textLength="28.6" lengthAdjust="spacingAndGlyphs" stroke="#111" stroke-width="0.12">Day 100</text>
<text x="474.8" y="458.9" font-size="7.6" font-weight="bold" text-anchor="middle" fill="#111" textLength="28.8" lengthAdjust="spacingAndGlyphs" stroke="#111" stroke-width="0.12">Day 180</text>
<text x="21.2" y="472.6" font-size="10.8" font-weight="bold" text-anchor="start" fill="#111" stroke="#111" stroke-width="0.3">G</text>
<line x1="17.4" y1="486.5" x2="17.4" y2="650.4" stroke="#222" stroke-width="1.0"/>
<line x1="16.9" y1="650.35" x2="515.0" y2="650.35" stroke="#3a3a3a" stroke-width="1.15"/>
<text transform="translate(11.72 571.9) rotate(-90)" font-size="7.0" fill="#1a1a1a" stroke="#1a1a1a" stroke-width="0" textLength="16.9" lengthAdjust="spacingAndGlyphs">pg/ml</text>
<text x="207.7" y="662.8" font-size="9.0" font-weight="normal" text-anchor="start" fill="#1a1a1a" textLength="77.9" lengthAdjust="spacingAndGlyphs" stroke="#1a1a1a" stroke-width="0.15">Cytokine Release Syndrome</text>
<line x1="94.7" y1="518.8" x2="94.7" y2="554" stroke="#66297c" stroke-width="1.0"/>
<line x1="91.1" y1="518.8" x2="98.3" y2="518.8" stroke="#66297c" stroke-width="1.0"/>
<line x1="94.7" y1="620.8" x2="94.7" y2="629.4" stroke="#66297c" stroke-width="1.0"/>
<line x1="91.1" y1="629.4" x2="98.3" y2="629.4" stroke="#66297c" stroke-width="1.0"/>
<rect x="86.8" y="554" width="15.8" height="66.8" fill="#997ba6" stroke="#66297c" stroke-width="1.0"/>
<line x1="86.8" y1="614" x2="102.6" y2="614" stroke="#66297c" stroke-width="1.0"/>
<path d="M94.7 552.8 L95.9 554 L94.7 555.2 L93.5 554 Z" fill="none" stroke="#66297c" stroke-width="0.9"/>
<ellipse cx="94.7" cy="498.1" rx="1.15" ry="2.0" fill="#66297c"/>
<text x="68.1" y="484.6" font-size="8.7" font-weight="bold" text-anchor="start" fill="#111" textLength="16.3" lengthAdjust="spacingAndGlyphs" stroke="#111" stroke-width="0.25">IL-2</text>
<line x1="35.5" y1="492.3" x2="37.3" y2="492.3" stroke="#3c3c3c" stroke-width="0.9"/>
<line x1="35.5" y1="503.4" x2="37.3" y2="503.4" stroke="#3c3c3c" stroke-width="0.9"/>
<line x1="35.5" y1="516.6" x2="37.3" y2="516.6" stroke="#3c3c3c" stroke-width="0.9"/>
<line x1="35.5" y1="527.8" x2="37.3" y2="527.8" stroke="#3c3c3c" stroke-width="0.9"/>
<line x1="35.5" y1="539.8" x2="37.3" y2="539.8" stroke="#3c3c3c" stroke-width="0.9"/>
<line x1="35.5" y1="562.2" x2="37.3" y2="562.2" stroke="#3c3c3c" stroke-width="0.9"/>
<line x1="35.5" y1="585" x2="37.3" y2="585" stroke="#3c3c3c" stroke-width="0.9"/>
<line x1="35.5" y1="607.3" x2="37.3" y2="607.3" stroke="#3c3c3c" stroke-width="0.9"/>
<line x1="35.5" y1="629.8" x2="37.3" y2="629.8" stroke="#3c3c3c" stroke-width="0.9"/>
<line x1="36" y1="547.3" x2="37.3" y2="547.3" stroke="#3c3c3c" stroke-width="0.9"/>
<line x1="36" y1="554.8" x2="37.3" y2="554.8" stroke="#3c3c3c" stroke-width="0.9"/>
<line x1="36" y1="569.7" x2="37.3" y2="569.7" stroke="#3c3c3c" stroke-width="0.9"/>
<line x1="36" y1="577.2" x2="37.3" y2="577.2" stroke="#3c3c3c" stroke-width="0.9"/>
<line x1="36" y1="592.5" x2="37.3" y2="592.5" stroke="#3c3c3c" stroke-width="0.9"/>
<line x1="36" y1="600" x2="37.3" y2="600" stroke="#3c3c3c" stroke-width="0.9"/>
<line x1="36" y1="614.8" x2="37.3" y2="614.8" stroke="#3c3c3c" stroke-width="0.9"/>
<line x1="36" y1="622.3" x2="37.3" y2="622.3" stroke="#3c3c3c" stroke-width="0.9"/>
<text x="34.4" y="494.9" font-size="7.0" fill="#2a2a2a" text-anchor="end" letter-spacing="0.2">97.0</text>
<text x="34.4" y="506" font-size="7.0" fill="#2a2a2a" text-anchor="end" letter-spacing="0.2">95.5</text>
<text x="34.4" y="519.2" font-size="7.0" fill="#2a2a2a" text-anchor="end" letter-spacing="0.2">23.5</text>
<text x="34.4" y="530.4" font-size="7.0" fill="#2a2a2a" text-anchor="end" letter-spacing="0.2">22.0</text>
<text x="34.4" y="542.4" font-size="7.0" fill="#2a2a2a" text-anchor="end" letter-spacing="0.2">12.0</text>
<text x="34.4" y="564.8" font-size="7.0" fill="#2a2a2a" text-anchor="end" letter-spacing="0.2">9.0</text>
<text x="34.4" y="587.6" font-size="7.0" fill="#2a2a2a" text-anchor="end" letter-spacing="0.2">6.0</text>
<text x="34.4" y="609.9" font-size="7.0" fill="#2a2a2a" text-anchor="end" letter-spacing="0.2">3.0</text>
<text x="34.4" y="632.4" font-size="7.0" fill="#2a2a2a" text-anchor="end" letter-spacing="0.2">0</text>
<line x1="56.5" y1="635.2" x2="56.5" y2="637.6" stroke="#3c3c3c" stroke-width="0.9"/>
<line x1="94.8" y1="635.2" x2="94.8" y2="637.6" stroke="#3c3c3c" stroke-width="0.9"/>
<text x="59.1" y="645.2" font-size="7.4" font-weight="normal" text-anchor="middle" fill="#2a2a2a">No</text>
<text x="94" y="645.2" font-size="7.4" font-weight="normal" text-anchor="middle" fill="#2a2a2a">Yes</text>
<line x1="56.45" y1="612.5" x2="56.45" y2="618.3" stroke="#45b94f" stroke-width="1.0"/>
<line x1="52.75" y1="612.5" x2="60.15" y2="612.5" stroke="#45b94f" stroke-width="1.0"/>
<line x1="56.45" y1="624.6" x2="56.45" y2="628.5" stroke="#45b94f" stroke-width="1.0"/>
<line x1="52.75" y1="628.5" x2="60.15" y2="628.5" stroke="#45b94f" stroke-width="1.0"/>
<rect x="48.8" y="618.3" width="15.3" height="6.3" fill="#a9d9a1" stroke="#45b94f" stroke-width="1.0"/>
<path d="M56.45 620.2 L57.75 621.5 L56.45 622.8 L55.15 621.5 Z" fill="none" stroke="#45b94f" stroke-width="0.9"/>
<line x1="196.15" y1="520.6" x2="196.15" y2="529.2" stroke="#66297c" stroke-width="1.0"/>
<line x1="192.5" y1="520.6" x2="199.8" y2="520.6" stroke="#66297c" stroke-width="1.0"/>
<line x1="196.15" y1="603.5" x2="196.15" y2="630" stroke="#66297c" stroke-width="1.0"/>
<line x1="192.5" y1="630" x2="199.8" y2="630" stroke="#66297c" stroke-width="1.0"/>
<rect x="188.2" y="529.2" width="15.9" height="74.3" fill="#997ba6" stroke="#66297c" stroke-width="1.0"/>
<line x1="188.2" y1="571" x2="204.1" y2="571" stroke="#66297c" stroke-width="1.0"/>
<ellipse cx="196.15" cy="556.5" rx="1.15" ry="2.0" fill="#66297c"/>
<ellipse cx="196.15" cy="494.2" rx="1.15" ry="2.0" fill="#66297c"/>
<ellipse cx="196.15" cy="501.9" rx="1.15" ry="2.0" fill="#66297c"/>
<text x="167.3" y="484.6" font-size="8.7" font-weight="bold" text-anchor="start" fill="#111" textLength="22.7" lengthAdjust="spacingAndGlyphs" stroke="#111" stroke-width="0.25">IL-2R</text>
<line x1="135.9" y1="492.7" x2="137.7" y2="492.7" stroke="#3c3c3c" stroke-width="0.9"/>
<line x1="135.9" y1="501.5" x2="137.7" y2="501.5" stroke="#3c3c3c" stroke-width="0.9"/>
<line x1="135.9" y1="512.1" x2="137.7" y2="512.1" stroke="#3c3c3c" stroke-width="0.9"/>
<line x1="135.9" y1="521.2" x2="137.7" y2="521.2" stroke="#3c3c3c" stroke-width="0.9"/>
<line x1="135.9" y1="531.3" x2="137.7" y2="531.3" stroke="#3c3c3c" stroke-width="0.9"/>
<line x1="135.9" y1="554" x2="137.7" y2="554" stroke="#3c3c3c" stroke-width="0.9"/>
<line x1="135.9" y1="566.5" x2="137.7" y2="566.5" stroke="#3c3c3c" stroke-width="0.9"/>
<line x1="135.9" y1="583.5" x2="137.7" y2="583.5" stroke="#3c3c3c" stroke-width="0.9"/>
<line x1="135.9" y1="601.2" x2="137.7" y2="601.2" stroke="#3c3c3c" stroke-width="0.9"/>
<line x1="135.9" y1="612.3" x2="137.7" y2="612.3" stroke="#3c3c3c" stroke-width="0.9"/>
<line x1="135.9" y1="629" x2="137.7" y2="629" stroke="#3c3c3c" stroke-width="0.9"/>
<line x1="136.4" y1="540.6" x2="137.7" y2="540.6" stroke="#3c3c3c" stroke-width="0.9"/>
<line x1="136.4" y1="548.5" x2="137.7" y2="548.5" stroke="#3c3c3c" stroke-width="0.9"/>
<line x1="136.4" y1="557.8" x2="137.7" y2="557.8" stroke="#3c3c3c" stroke-width="0.9"/>
<line x1="136.4" y1="574.3" x2="137.7" y2="574.3" stroke="#3c3c3c" stroke-width="0.9"/>
<line x1="136.4" y1="592.3" x2="137.7" y2="592.3" stroke="#3c3c3c" stroke-width="0.9"/>
<line x1="136.4" y1="620" x2="137.7" y2="620" stroke="#3c3c3c" stroke-width="0.9"/>
<text x="134.4" y="495.3" font-size="7.0" fill="#2a2a2a" text-anchor="end" letter-spacing="0.2">830</text>
<text x="134.4" y="504.1" font-size="7.0" fill="#2a2a2a" text-anchor="end" letter-spacing="0.2">800</text>
<text x="134.4" y="514.7" font-size="7.0" fill="#2a2a2a" text-anchor="end" letter-spacing="0.2">690</text>
<text x="134.4" y="523.8" font-size="7.0" fill="#2a2a2a" text-anchor="end" letter-spacing="0.2">660</text>
<text x="134.4" y="533.9" font-size="7.0" fill="#2a2a2a" text-anchor="end" letter-spacing="0.2">400</text>
<text x="134.4" y="556.6" font-size="7.0" fill="#2a2a2a" text-anchor="end" letter-spacing="0.2">20</text>
<text x="134.4" y="569.1" font-size="7.0" fill="#2a2a2a" text-anchor="end" letter-spacing="0.2">280</text>
<text x="134.4" y="586.1" font-size="7.0" fill="#2a2a2a" text-anchor="end" letter-spacing="0.2">250</text>
<text x="134.4" y="603.8" font-size="7.0" fill="#2a2a2a" text-anchor="end" letter-spacing="0.2">160</text>
<text x="134.4" y="614.9" font-size="7.0" fill="#2a2a2a" text-anchor="end" letter-spacing="0.2">80</text>
<text x="134.4" y="631.6" font-size="7.0" fill="#2a2a2a" text-anchor="end" letter-spacing="0.2">20</text>
<line x1="157.3" y1="635.4" x2="157.3" y2="637.8" stroke="#3c3c3c" stroke-width="0.9"/>
<line x1="195.8" y1="635.4" x2="195.8" y2="637.8" stroke="#3c3c3c" stroke-width="0.9"/>
<text x="158.3" y="645.2" font-size="7.4" font-weight="normal" text-anchor="middle" fill="#2a2a2a">No</text>
<text x="195.1" y="645.2" font-size="7.4" font-weight="normal" text-anchor="middle" fill="#2a2a2a">Yes</text>
<line x1="157.4" y1="608.5" x2="157.4" y2="609.4" stroke="#45b94f" stroke-width="1.0"/>
<line x1="153.9" y1="608.5" x2="160.9" y2="608.5" stroke="#45b94f" stroke-width="1.0"/>
<line x1="157.4" y1="621.9" x2="157.4" y2="625.2" stroke="#45b94f" stroke-width="1.0"/>
<line x1="153.9" y1="625.2" x2="160.9" y2="625.2" stroke="#45b94f" stroke-width="1.0"/>
<rect x="149.7" y="609.4" width="15.4" height="12.5" fill="#a9d9a1" stroke="#45b94f" stroke-width="1.0"/>
<line x1="149.7" y1="616.2" x2="165.1" y2="616.2" stroke="#45b94f" stroke-width="1.0"/>
<circle cx="157.4" cy="611.9" r="1.1" fill="none" stroke="#45b94f" stroke-width="0.8"/>
<ellipse cx="157.3" cy="582.9" rx="1.15" ry="2.0" fill="#45b94f"/>
<line x1="291.45" y1="507.7" x2="291.45" y2="534.2" stroke="#66297c" stroke-width="1.0"/>
<line x1="287.45" y1="507.7" x2="295.45" y2="507.7" stroke="#66297c" stroke-width="1.0"/>
<line x1="291.45" y1="600.6" x2="291.45" y2="629.6" stroke="#66297c" stroke-width="1.0"/>
<line x1="287.45" y1="629.6" x2="295.45" y2="629.6" stroke="#66297c" stroke-width="1.0"/>
<rect x="283.6" y="534.2" width="15.7" height="66.4" fill="#997ba6" stroke="#66297c" stroke-width="1.0"/>
<line x1="283.6" y1="565.6" x2="299.3" y2="565.6" stroke="#66297c" stroke-width="1.0"/>
<path d="M291.45 564.2 L292.85 565.6 L291.45 567 L290.05 565.6 Z" fill="none" stroke="#66297c" stroke-width="0.9"/>
<text x="266.9" y="484.6" font-size="8.7" font-weight="bold" text-anchor="start" fill="#111" textLength="18.1" lengthAdjust="spacingAndGlyphs" stroke="#111" stroke-width="0.25">MIG</text>
<line x1="231.9" y1="500" x2="233.7" y2="500" stroke="#3c3c3c" stroke-width="0.9"/>
<line x1="231.9" y1="516.3" x2="233.7" y2="516.3" stroke="#3c3c3c" stroke-width="0.9"/>
<line x1="231.9" y1="532.8" x2="233.7" y2="532.8" stroke="#3c3c3c" stroke-width="0.9"/>
<line x1="231.9" y1="553.1" x2="233.7" y2="553.1" stroke="#3c3c3c" stroke-width="0.9"/>
<line x1="231.9" y1="569.4" x2="233.7" y2="569.4" stroke="#3c3c3c" stroke-width="0.9"/>
<line x1="231.9" y1="585.4" x2="233.7" y2="585.4" stroke="#3c3c3c" stroke-width="0.9"/>
<line x1="231.9" y1="602.5" x2="233.7" y2="602.5" stroke="#3c3c3c" stroke-width="0.9"/>
<line x1="231.9" y1="619.4" x2="233.7" y2="619.4" stroke="#3c3c3c" stroke-width="0.9"/>
<text x="230" y="502.6" font-size="7.0" fill="#2a2a2a" text-anchor="end" letter-spacing="0.2">225</text>
<text x="230" y="518.9" font-size="7.0" fill="#2a2a2a" text-anchor="end" letter-spacing="0.2">200</text>
<text x="230" y="535.4" font-size="7.0" fill="#2a2a2a" text-anchor="end" letter-spacing="0.2">175</text>
<text x="230" y="555.7" font-size="7.0" fill="#2a2a2a" text-anchor="end" letter-spacing="0.2">125</text>
<text x="230" y="572" font-size="7.0" fill="#2a2a2a" text-anchor="end" letter-spacing="0.2">100</text>
<text x="230" y="588" font-size="7.0" fill="#2a2a2a" text-anchor="end" letter-spacing="0.2">75</text>
<text x="230" y="605.1" font-size="7.0" fill="#2a2a2a" text-anchor="end" letter-spacing="0.2">50</text>
<text x="230" y="622" font-size="7.0" fill="#2a2a2a" text-anchor="end" letter-spacing="0.2">25</text>
<line x1="252.3" y1="635.2" x2="252.3" y2="637.6" stroke="#3c3c3c" stroke-width="0.9"/>
<line x1="290.8" y1="635.2" x2="290.8" y2="637.6" stroke="#3c3c3c" stroke-width="0.9"/>
<text x="252.9" y="645.2" font-size="7.4" font-weight="normal" text-anchor="middle" fill="#2a2a2a">No</text>
<text x="289.7" y="645.2" font-size="7.4" font-weight="normal" text-anchor="middle" fill="#2a2a2a">Yes</text>
<line x1="252.95" y1="614.6" x2="252.95" y2="618.1" stroke="#45b94f" stroke-width="1.0"/>
<line x1="249.45" y1="618.1" x2="256.45" y2="618.1" stroke="#45b94f" stroke-width="1.0"/>
<rect x="245.1" y="600.8" width="15.7" height="13.8" fill="#a9d9a1" stroke="#45b94f" stroke-width="1.0"/>
<line x1="245.1" y1="611.7" x2="260.8" y2="611.7" stroke="#45b94f" stroke-width="1.0"/>
<ellipse cx="252.3" cy="493.8" rx="1.15" ry="2.0" fill="#45b94f"/>
<ellipse cx="252.3" cy="555" rx="1.15" ry="2.0" fill="#45b94f"/>
<ellipse cx="252.3" cy="594.8" rx="1.15" ry="2.0" fill="#45b94f"/>
<line x1="393.25" y1="532.1" x2="393.25" y2="567.5" stroke="#66297c" stroke-width="1.0"/>
<line x1="389.75" y1="532.1" x2="396.75" y2="532.1" stroke="#66297c" stroke-width="1.0"/>
<line x1="393.25" y1="599.2" x2="393.25" y2="616.9" stroke="#66297c" stroke-width="1.0"/>
<line x1="389.75" y1="616.9" x2="396.75" y2="616.9" stroke="#66297c" stroke-width="1.0"/>
<rect x="385.3" y="567.5" width="15.9" height="31.7" fill="#997ba6" stroke="#66297c" stroke-width="1.0"/>
<line x1="385.3" y1="587.7" x2="401.2" y2="587.7" stroke="#66297c" stroke-width="1.0"/>
<ellipse cx="393.7" cy="495.6" rx="1.15" ry="2.0" fill="#66297c"/>
<ellipse cx="393.7" cy="523.7" rx="1.15" ry="2.0" fill="#66297c"/>
<ellipse cx="393.7" cy="543.1" rx="1.15" ry="2.0" fill="#66297c"/>
<text x="360" y="484.6" font-size="8.7" font-weight="bold" text-anchor="start" fill="#111" textLength="31.9" lengthAdjust="spacingAndGlyphs" stroke="#111" stroke-width="0.25">MIP-1b</text>
<line x1="330.6" y1="492.7" x2="332.4" y2="492.7" stroke="#3c3c3c" stroke-width="0.9"/>
<line x1="330.6" y1="521.2" x2="332.4" y2="521.2" stroke="#3c3c3c" stroke-width="0.9"/>
<line x1="330.6" y1="535.8" x2="332.4" y2="535.8" stroke="#3c3c3c" stroke-width="0.9"/>
<line x1="330.6" y1="583.8" x2="332.4" y2="583.8" stroke="#3c3c3c" stroke-width="0.9"/>
<line x1="330.6" y1="621.3" x2="332.4" y2="621.3" stroke="#3c3c3c" stroke-width="0.9"/>
<line x1="331.1" y1="501.9" x2="332.4" y2="501.9" stroke="#3c3c3c" stroke-width="0.9"/>
<line x1="331.1" y1="511.5" x2="332.4" y2="511.5" stroke="#3c3c3c" stroke-width="0.9"/>
<line x1="331.1" y1="545.4" x2="332.4" y2="545.4" stroke="#3c3c3c" stroke-width="0.9"/>
<line x1="331.1" y1="555" x2="332.4" y2="555" stroke="#3c3c3c" stroke-width="0.9"/>
<line x1="331.1" y1="564.6" x2="332.4" y2="564.6" stroke="#3c3c3c" stroke-width="0.9"/>
<line x1="331.1" y1="574.2" x2="332.4" y2="574.2" stroke="#3c3c3c" stroke-width="0.9"/>
<line x1="331.1" y1="593.5" x2="332.4" y2="593.5" stroke="#3c3c3c" stroke-width="0.9"/>
<line x1="331.1" y1="603" x2="332.4" y2="603" stroke="#3c3c3c" stroke-width="0.9"/>
<line x1="331.1" y1="611.7" x2="332.4" y2="611.7" stroke="#3c3c3c" stroke-width="0.9"/>
<text x="330" y="495.3" font-size="7.0" fill="#2a2a2a" text-anchor="end" letter-spacing="0.2">1,160</text>
<text x="330" y="523.8" font-size="7.0" fill="#2a2a2a" text-anchor="end" letter-spacing="0.2">1,100</text>
<text x="330" y="538.4" font-size="7.0" fill="#2a2a2a" text-anchor="end" letter-spacing="0.2">200</text>
<text x="330" y="586.4" font-size="7.0" fill="#2a2a2a" text-anchor="end" letter-spacing="0.2">100</text>
<text x="330" y="623.9" font-size="7.0" fill="#2a2a2a" text-anchor="end" letter-spacing="0.2">20</text>
<line x1="353.1" y1="635.2" x2="353.1" y2="637.6" stroke="#3c3c3c" stroke-width="0.9"/>
<line x1="393.5" y1="635.2" x2="393.5" y2="637.6" stroke="#3c3c3c" stroke-width="0.9"/>
<text x="354.7" y="645.2" font-size="7.4" font-weight="normal" text-anchor="middle" fill="#2a2a2a">No</text>
<text x="391.3" y="645.2" font-size="7.4" font-weight="normal" text-anchor="middle" fill="#2a2a2a">Yes</text>
<line x1="353.05" y1="586.2" x2="353.05" y2="589.2" stroke="#45b94f" stroke-width="1.0"/>
<line x1="349.55" y1="586.2" x2="356.55" y2="586.2" stroke="#45b94f" stroke-width="1.0"/>
<line x1="353.05" y1="610.4" x2="353.05" y2="615.2" stroke="#45b94f" stroke-width="1.0"/>
<line x1="349.55" y1="615.2" x2="356.55" y2="615.2" stroke="#45b94f" stroke-width="1.0"/>
<rect x="344.9" y="589.2" width="16.3" height="21.2" fill="#a9d9a1" stroke="#45b94f" stroke-width="1.0"/>
<line x1="344.9" y1="607.5" x2="361.2" y2="607.5" stroke="#45b94f" stroke-width="1.0"/>
<ellipse cx="353.05" cy="600.2" rx="1.0" ry="1.6" fill="#45b94f"/>
<ellipse cx="353.5" cy="557.5" rx="1.15" ry="2.0" fill="#45b94f"/>
<line x1="493.1" y1="520.4" x2="493.1" y2="575.7" stroke="#66297c" stroke-width="1.0"/>
<line x1="489.4" y1="520.4" x2="496.8" y2="520.4" stroke="#66297c" stroke-width="1.0"/>
<line x1="493.1" y1="616.1" x2="493.1" y2="626.5" stroke="#66297c" stroke-width="1.0"/>
<line x1="489.4" y1="626.5" x2="496.8" y2="626.5" stroke="#66297c" stroke-width="1.0"/>
<rect x="485.1" y="575.7" width="16" height="40.4" fill="#997ba6" stroke="#66297c" stroke-width="1.0"/>
<line x1="485.1" y1="608.4" x2="501.1" y2="608.4" stroke="#66297c" stroke-width="1.0"/>
<path d="M493.1 574.9 L494.5 576.3 L493.1 577.7 L491.7 576.3 Z" fill="none" stroke="#66297c" stroke-width="0.9"/>
<ellipse cx="492.7" cy="494.6" rx="1.15" ry="2.0" fill="#66297c"/>
<text x="468.5" y="484.6" font-size="8.7" font-weight="bold" text-anchor="start" fill="#111" textLength="16.1" lengthAdjust="spacingAndGlyphs" stroke="#111" stroke-width="0.25">IL-6</text>
<line x1="429.7" y1="494.6" x2="431.5" y2="494.6" stroke="#3c3c3c" stroke-width="0.9"/>
<line x1="429.7" y1="516.2" x2="431.5" y2="516.2" stroke="#3c3c3c" stroke-width="0.9"/>
<line x1="429.7" y1="544.3" x2="431.5" y2="544.3" stroke="#3c3c3c" stroke-width="0.9"/>
<line x1="429.7" y1="572.6" x2="431.5" y2="572.6" stroke="#3c3c3c" stroke-width="0.9"/>
<line x1="429.7" y1="600.7" x2="431.5" y2="600.7" stroke="#3c3c3c" stroke-width="0.9"/>
<line x1="429.7" y1="628.3" x2="431.5" y2="628.3" stroke="#3c3c3c" stroke-width="0.9"/>
<line x1="430.2" y1="525.6" x2="431.5" y2="525.6" stroke="#3c3c3c" stroke-width="0.9"/>
<line x1="430.2" y1="535" x2="431.5" y2="535" stroke="#3c3c3c" stroke-width="0.9"/>
<line x1="430.2" y1="553.7" x2="431.5" y2="553.7" stroke="#3c3c3c" stroke-width="0.9"/>
<line x1="430.2" y1="563.1" x2="431.5" y2="563.1" stroke="#3c3c3c" stroke-width="0.9"/>
<line x1="430.2" y1="582" x2="431.5" y2="582" stroke="#3c3c3c" stroke-width="0.9"/>
<line x1="430.2" y1="591.4" x2="431.5" y2="591.4" stroke="#3c3c3c" stroke-width="0.9"/>
<line x1="430.2" y1="610.1" x2="431.5" y2="610.1" stroke="#3c3c3c" stroke-width="0.9"/>
<line x1="430.2" y1="619.5" x2="431.5" y2="619.5" stroke="#3c3c3c" stroke-width="0.9"/>
<text x="428.5" y="497.2" font-size="7.0" fill="#2a2a2a" text-anchor="end" letter-spacing="0.2">668</text>
<text x="428.5" y="518.8" font-size="7.0" fill="#2a2a2a" text-anchor="end" letter-spacing="0.2">126</text>
<text x="428.5" y="546.9" font-size="7.0" fill="#2a2a2a" text-anchor="end" letter-spacing="0.2">96</text>
<text x="428.5" y="575.2" font-size="7.0" fill="#2a2a2a" text-anchor="end" letter-spacing="0.2">66</text>
<text x="428.5" y="603.3" font-size="7.0" fill="#2a2a2a" text-anchor="end" letter-spacing="0.2">36</text>
<text x="428.5" y="630.9" font-size="7.0" fill="#2a2a2a" text-anchor="end" letter-spacing="0.2">6</text>
<line x1="451.9" y1="635" x2="451.9" y2="637.4" stroke="#3c3c3c" stroke-width="0.9"/>
<line x1="492.8" y1="635" x2="492.8" y2="637.4" stroke="#3c3c3c" stroke-width="0.9"/>
<text x="453.4" y="645.2" font-size="7.4" font-weight="normal" text-anchor="middle" fill="#2a2a2a">No</text>
<text x="490.1" y="645.2" font-size="7.4" font-weight="normal" text-anchor="middle" fill="#2a2a2a">Yes</text>
<line x1="452.2" y1="621.7" x2="452.2" y2="627.2" stroke="#45b94f" stroke-width="1.0"/>
<line x1="448.2" y1="627.2" x2="456.2" y2="627.2" stroke="#45b94f" stroke-width="1.0"/>
<rect x="444.2" y="611.1" width="16" height="10.6" fill="#a9d9a1" stroke="#45b94f" stroke-width="1.0"/>
<line x1="444.2" y1="619" x2="460.2" y2="619" stroke="#45b94f" stroke-width="1.0"/>
<ellipse cx="452.2" cy="505.5" rx="1.15" ry="2.0" fill="#45b94f"/>
<ellipse cx="452.2" cy="590.3" rx="1.15" ry="2.0" fill="#45b94f"/>
<ellipse cx="452.2" cy="606.2" rx="1.15" ry="2.0" fill="#45b94f"/>
<rect x="0.5" y="0.5" width="519" height="669" fill="none" stroke="#111" stroke-width="1"/>
<line x1="519.4" y1="0" x2="519.4" y2="670" stroke="#111" stroke-width="1.2"/>
<line x1="0" y1="669.4" x2="520" y2="669.4" stroke="#111" stroke-width="1.2"/>
</svg>
</body></html>
